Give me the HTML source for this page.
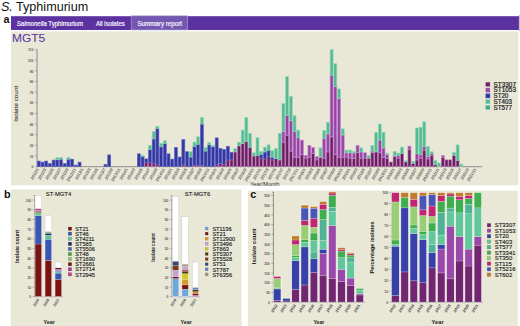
<!DOCTYPE html>
<html><head><meta charset="utf-8"><title>S. Typhimurium MGT5</title>
<style>
html,body{margin:0;padding:0;background:#fff;}
body{width:520px;height:326px;overflow:hidden;font-family:"Liberation Sans",sans-serif;}
svg{display:block;}
svg text{font-family:"Liberation Sans",sans-serif;}
</style></head><body>
<svg width="520" height="326" viewBox="0 0 520 326">
<rect width="520" height="326" fill="#fff"/>
<text x="0.9" y="10.8" font-size="12.6" fill="#111"><tspan font-style="italic">S.</tspan> Typhimurium</text>
<text x="3.6" y="22.9" font-weight="bold" font-size="10.8" fill="#111">a</text>
<rect x="11" y="31.4" width="507.4" height="153.9" fill="#e9e8d7"/>
<rect x="11" y="16.2" width="507.6" height="13.8" fill="#5c31a0"/>
<rect x="518" y="16.2" width="0.8" height="13.8" fill="#3b1f6b"/>
<rect x="518.8" y="15" width="1.2" height="16" fill="#c9b8e6"/>
<rect x="131.2" y="15.8" width="56.4" height="14.2" fill="#7457b0" stroke="#b9a9d6" stroke-width="0.6"/>
<g font-size="6.3" fill="#f5f1fb" stroke="#f5f1fb" stroke-width="0.2">
<text x="16.8" y="25.8" textLength="66.2" lengthAdjust="spacingAndGlyphs"><tspan font-style="italic">Salmonella</tspan> Typhimurium</text>
<text x="95.9" y="25.8" textLength="28.9" lengthAdjust="spacingAndGlyphs">All isolates</text>
<text x="137.4" y="25.8" textLength="44.6" lengthAdjust="spacingAndGlyphs">Summary report</text>
</g>
<text x="12.0" y="41.9" font-size="11.2" fill="#5b37a0" stroke="#5b37a0" stroke-width="0.08" textLength="33.2" lengthAdjust="spacingAndGlyphs">MGT5</text>
<line x1="37.0" y1="49.4" x2="37.0" y2="166.6" stroke="#777" stroke-width="0.8"/>
<line x1="37.0" y1="166.6" x2="481.8" y2="166.6" stroke="#777" stroke-width="0.7"/>
<g font-size="3.3" font-weight="bold" fill="#5a5a5a" text-anchor="end">
<line x1="34.8" y1="166.6" x2="37.0" y2="166.6" stroke="#777" stroke-width="0.5"/>
<text x="33.3" y="168.3">0</text>
<line x1="34.8" y1="155.96" x2="37.0" y2="155.96" stroke="#777" stroke-width="0.5"/>
<text x="33.3" y="157.66">10</text>
<line x1="34.8" y1="145.33" x2="37.0" y2="145.33" stroke="#777" stroke-width="0.5"/>
<text x="33.3" y="147.03">20</text>
<line x1="34.8" y1="134.69" x2="37.0" y2="134.69" stroke="#777" stroke-width="0.5"/>
<text x="33.3" y="136.39">30</text>
<line x1="34.8" y1="124.05" x2="37.0" y2="124.05" stroke="#777" stroke-width="0.5"/>
<text x="33.3" y="125.75">40</text>
<line x1="34.8" y1="113.42" x2="37.0" y2="113.42" stroke="#777" stroke-width="0.5"/>
<text x="33.3" y="115.12">50</text>
<line x1="34.8" y1="102.78" x2="37.0" y2="102.78" stroke="#777" stroke-width="0.5"/>
<text x="33.3" y="104.48">60</text>
<line x1="34.8" y1="92.15" x2="37.0" y2="92.15" stroke="#777" stroke-width="0.5"/>
<text x="33.3" y="93.85">70</text>
<line x1="34.8" y1="81.51" x2="37.0" y2="81.51" stroke="#777" stroke-width="0.5"/>
<text x="33.3" y="83.21">80</text>
<line x1="34.8" y1="70.87" x2="37.0" y2="70.87" stroke="#777" stroke-width="0.5"/>
<text x="33.3" y="72.57">90</text>
<line x1="34.8" y1="60.24" x2="37.0" y2="60.24" stroke="#777" stroke-width="0.5"/>
<text x="33.3" y="61.94">100</text>
<line x1="34.8" y1="49.6" x2="37.0" y2="49.6" stroke="#777" stroke-width="0.5"/>
<text x="33.3" y="51.3">110</text>
</g>
<rect x="37.3" y="161.07" width="2.96" height="5.53" fill="#3337a0" stroke="#6367c6" stroke-width="0.65"/>
<rect x="41.01" y="162.13" width="2.96" height="4.47" fill="#3337a0" stroke="#6367c6" stroke-width="0.65"/>
<rect x="44.71" y="161.07" width="2.96" height="5.53" fill="#3337a0" stroke="#6367c6" stroke-width="0.65"/>
<rect x="48.42" y="163.62" width="2.96" height="2.98" fill="#3337a0" stroke="#6367c6" stroke-width="0.65"/>
<rect x="52.13" y="160.11" width="2.96" height="6.49" fill="#3337a0" stroke="#6367c6" stroke-width="0.65"/>
<rect x="55.83" y="159.69" width="2.96" height="6.91" fill="#3337a0" stroke="#6367c6" stroke-width="0.65"/>
<rect x="55.83" y="157.56" width="2.96" height="2.13" fill="#56b993" stroke="#90dab8" stroke-width="0.65"/>
<rect x="59.54" y="159.15" width="2.96" height="7.45" fill="#3337a0" stroke="#6367c6" stroke-width="0.65"/>
<rect x="59.54" y="157.56" width="2.96" height="1.6" fill="#56b993" stroke="#90dab8" stroke-width="0.65"/>
<rect x="63.25" y="163.62" width="2.96" height="2.98" fill="#3337a0" stroke="#6367c6" stroke-width="0.65"/>
<rect x="66.95" y="159.15" width="2.96" height="7.45" fill="#3337a0" stroke="#6367c6" stroke-width="0.65"/>
<rect x="66.95" y="157.56" width="2.96" height="1.6" fill="#56b993" stroke="#90dab8" stroke-width="0.65"/>
<rect x="70.66" y="159.15" width="2.96" height="7.45" fill="#3337a0" stroke="#6367c6" stroke-width="0.65"/>
<rect x="74.37" y="165.11" width="2.96" height="1.49" fill="#3337a0" stroke="#6367c6" stroke-width="0.65"/>
<rect x="78.07" y="162.13" width="2.96" height="4.47" fill="#3337a0" stroke="#6367c6" stroke-width="0.65"/>
<rect x="104.02" y="164.47" width="2.96" height="2.13" fill="#3337a0" stroke="#6367c6" stroke-width="0.65"/>
<rect x="107.73" y="154.9" width="2.96" height="11.7" fill="#3337a0" stroke="#6367c6" stroke-width="0.65"/>
<rect x="137.38" y="153.84" width="2.96" height="12.76" fill="#3337a0" stroke="#6367c6" stroke-width="0.65"/>
<rect x="141.09" y="156.28" width="2.96" height="10.32" fill="#3337a0" stroke="#6367c6" stroke-width="0.65"/>
<rect x="141.09" y="155.22" width="2.96" height="1.06" fill="#56b993" stroke="#90dab8" stroke-width="0.65"/>
<rect x="144.79" y="162.35" width="2.96" height="4.25" fill="#6b1e60" stroke="#b874b6" stroke-width="0.65"/>
<rect x="144.79" y="158.94" width="2.96" height="3.4" fill="#3337a0" stroke="#6367c6" stroke-width="0.65"/>
<rect x="148.5" y="162.35" width="2.96" height="4.25" fill="#6b1e60" stroke="#b874b6" stroke-width="0.65"/>
<rect x="148.5" y="149.58" width="2.96" height="12.76" fill="#3337a0" stroke="#6367c6" stroke-width="0.65"/>
<rect x="148.5" y="145.33" width="2.96" height="4.25" fill="#56b993" stroke="#90dab8" stroke-width="0.65"/>
<rect x="152.21" y="163.41" width="2.96" height="3.19" fill="#6b1e60" stroke="#b874b6" stroke-width="0.65"/>
<rect x="152.21" y="138.95" width="2.96" height="24.46" fill="#3337a0" stroke="#6367c6" stroke-width="0.65"/>
<rect x="152.21" y="131.5" width="2.96" height="7.45" fill="#56b993" stroke="#90dab8" stroke-width="0.65"/>
<rect x="155.91" y="164.47" width="2.96" height="2.13" fill="#6b1e60" stroke="#b874b6" stroke-width="0.65"/>
<rect x="155.91" y="128.31" width="2.96" height="36.16" fill="#3337a0" stroke="#6367c6" stroke-width="0.65"/>
<rect x="155.91" y="126.18" width="2.96" height="2.13" fill="#56b993" stroke="#90dab8" stroke-width="0.65"/>
<rect x="159.62" y="146.82" width="2.96" height="19.78" fill="#3337a0" stroke="#6367c6" stroke-width="0.65"/>
<rect x="159.62" y="143.2" width="2.96" height="3.62" fill="#56b993" stroke="#90dab8" stroke-width="0.65"/>
<rect x="163.33" y="143.63" width="2.96" height="22.97" fill="#3337a0" stroke="#6367c6" stroke-width="0.65"/>
<rect x="163.33" y="140.75" width="2.96" height="2.87" fill="#56b993" stroke="#90dab8" stroke-width="0.65"/>
<rect x="167.03" y="153.84" width="2.96" height="12.76" fill="#3337a0" stroke="#6367c6" stroke-width="0.65"/>
<rect x="170.74" y="159.15" width="2.96" height="7.45" fill="#3337a0" stroke="#6367c6" stroke-width="0.65"/>
<rect x="174.45" y="147.45" width="2.96" height="19.15" fill="#3337a0" stroke="#6367c6" stroke-width="0.65"/>
<rect x="178.15" y="157.03" width="2.96" height="9.57" fill="#3337a0" stroke="#6367c6" stroke-width="0.65"/>
<rect x="181.86" y="164.47" width="2.96" height="2.13" fill="#6b1e60" stroke="#b874b6" stroke-width="0.65"/>
<rect x="181.86" y="139.48" width="2.96" height="25" fill="#3337a0" stroke="#6367c6" stroke-width="0.65"/>
<rect x="185.57" y="151.71" width="2.96" height="14.89" fill="#3337a0" stroke="#6367c6" stroke-width="0.65"/>
<rect x="189.27" y="157.03" width="2.96" height="9.57" fill="#3337a0" stroke="#6367c6" stroke-width="0.65"/>
<rect x="189.27" y="151.71" width="2.96" height="5.32" fill="#56b993" stroke="#90dab8" stroke-width="0.65"/>
<rect x="192.98" y="165.54" width="2.96" height="1.06" fill="#6b1e60" stroke="#b874b6" stroke-width="0.65"/>
<rect x="192.98" y="146.39" width="2.96" height="19.15" fill="#3337a0" stroke="#6367c6" stroke-width="0.65"/>
<rect x="192.98" y="142.14" width="2.96" height="4.25" fill="#56b993" stroke="#90dab8" stroke-width="0.65"/>
<rect x="196.69" y="165.54" width="2.96" height="1.06" fill="#6b1e60" stroke="#b874b6" stroke-width="0.65"/>
<rect x="196.69" y="144.26" width="2.96" height="21.27" fill="#3337a0" stroke="#6367c6" stroke-width="0.65"/>
<rect x="196.69" y="136.82" width="2.96" height="7.45" fill="#56b993" stroke="#90dab8" stroke-width="0.65"/>
<rect x="200.39" y="165.54" width="2.96" height="1.06" fill="#6b1e60" stroke="#b874b6" stroke-width="0.65"/>
<rect x="200.39" y="124.05" width="2.96" height="41.48" fill="#3337a0" stroke="#6367c6" stroke-width="0.65"/>
<rect x="200.39" y="117.35" width="2.96" height="6.7" fill="#56b993" stroke="#90dab8" stroke-width="0.65"/>
<rect x="204.1" y="151.07" width="2.96" height="15.53" fill="#3337a0" stroke="#6367c6" stroke-width="0.65"/>
<rect x="204.1" y="147.45" width="2.96" height="3.62" fill="#56b993" stroke="#90dab8" stroke-width="0.65"/>
<rect x="207.81" y="144.8" width="2.96" height="21.8" fill="#3337a0" stroke="#6367c6" stroke-width="0.65"/>
<rect x="207.81" y="142.67" width="2.96" height="2.13" fill="#56b993" stroke="#90dab8" stroke-width="0.65"/>
<rect x="211.51" y="146.71" width="2.96" height="19.89" fill="#3337a0" stroke="#6367c6" stroke-width="0.65"/>
<rect x="211.51" y="145.33" width="2.96" height="1.38" fill="#56b993" stroke="#90dab8" stroke-width="0.65"/>
<rect x="215.22" y="164.47" width="2.96" height="2.13" fill="#6b1e60" stroke="#b874b6" stroke-width="0.65"/>
<rect x="215.22" y="137.88" width="2.96" height="26.59" fill="#3337a0" stroke="#6367c6" stroke-width="0.65"/>
<rect x="218.93" y="163.41" width="2.96" height="3.19" fill="#6b1e60" stroke="#b874b6" stroke-width="0.65"/>
<rect x="218.93" y="148.52" width="2.96" height="14.89" fill="#3337a0" stroke="#6367c6" stroke-width="0.65"/>
<rect x="222.63" y="164.47" width="2.96" height="2.13" fill="#6b1e60" stroke="#b874b6" stroke-width="0.65"/>
<rect x="222.63" y="149.58" width="2.96" height="14.89" fill="#3337a0" stroke="#6367c6" stroke-width="0.65"/>
<rect x="226.34" y="159.9" width="2.96" height="6.7" fill="#6b1e60" stroke="#b874b6" stroke-width="0.65"/>
<rect x="226.34" y="146.28" width="2.96" height="13.61" fill="#3337a0" stroke="#6367c6" stroke-width="0.65"/>
<rect x="230.05" y="159.9" width="2.96" height="6.7" fill="#6b1e60" stroke="#b874b6" stroke-width="0.65"/>
<rect x="230.05" y="152.24" width="2.96" height="7.66" fill="#3337a0" stroke="#6367c6" stroke-width="0.65"/>
<rect x="233.75" y="151.92" width="2.96" height="14.68" fill="#6b1e60" stroke="#b874b6" stroke-width="0.65"/>
<rect x="233.75" y="148.41" width="2.96" height="3.51" fill="#56b993" stroke="#90dab8" stroke-width="0.65"/>
<rect x="237.46" y="145.75" width="2.96" height="20.85" fill="#6b1e60" stroke="#b874b6" stroke-width="0.65"/>
<rect x="237.46" y="142.24" width="2.96" height="3.51" fill="#56b993" stroke="#90dab8" stroke-width="0.65"/>
<rect x="241.17" y="143.63" width="2.96" height="22.97" fill="#6b1e60" stroke="#b874b6" stroke-width="0.65"/>
<rect x="241.17" y="130.12" width="2.96" height="13.51" fill="#56b993" stroke="#90dab8" stroke-width="0.65"/>
<rect x="244.87" y="141.29" width="2.96" height="25.31" fill="#6b1e60" stroke="#b874b6" stroke-width="0.65"/>
<rect x="244.87" y="117.35" width="2.96" height="23.93" fill="#56b993" stroke="#90dab8" stroke-width="0.65"/>
<rect x="248.58" y="147.45" width="2.96" height="19.15" fill="#6b1e60" stroke="#b874b6" stroke-width="0.65"/>
<rect x="248.58" y="133.31" width="2.96" height="14.15" fill="#56b993" stroke="#90dab8" stroke-width="0.65"/>
<rect x="252.29" y="155.96" width="2.96" height="10.64" fill="#6b1e60" stroke="#b874b6" stroke-width="0.65"/>
<rect x="252.29" y="152.77" width="2.96" height="3.19" fill="#56b993" stroke="#90dab8" stroke-width="0.65"/>
<rect x="255.99" y="155.43" width="2.96" height="11.17" fill="#6b1e60" stroke="#b874b6" stroke-width="0.65"/>
<rect x="255.99" y="137.78" width="2.96" height="17.66" fill="#56b993" stroke="#90dab8" stroke-width="0.65"/>
<rect x="259.7" y="158.09" width="2.96" height="8.51" fill="#6b1e60" stroke="#b874b6" stroke-width="0.65"/>
<rect x="259.7" y="154.58" width="2.96" height="3.51" fill="#3337a0" stroke="#6367c6" stroke-width="0.65"/>
<rect x="259.7" y="151.39" width="2.96" height="3.19" fill="#56b993" stroke="#90dab8" stroke-width="0.65"/>
<rect x="263.41" y="158.94" width="2.96" height="7.66" fill="#6b1e60" stroke="#b874b6" stroke-width="0.65"/>
<rect x="263.41" y="151.92" width="2.96" height="7.02" fill="#3337a0" stroke="#6367c6" stroke-width="0.65"/>
<rect x="263.41" y="147.14" width="2.96" height="4.79" fill="#56b993" stroke="#90dab8" stroke-width="0.65"/>
<rect x="267.11" y="156.28" width="2.96" height="10.32" fill="#6b1e60" stroke="#b874b6" stroke-width="0.65"/>
<rect x="267.11" y="150.11" width="2.96" height="6.17" fill="#3337a0" stroke="#6367c6" stroke-width="0.65"/>
<rect x="267.11" y="144.8" width="2.96" height="5.32" fill="#56b993" stroke="#90dab8" stroke-width="0.65"/>
<rect x="270.82" y="159.9" width="2.96" height="6.7" fill="#6b1e60" stroke="#b874b6" stroke-width="0.65"/>
<rect x="270.82" y="157.24" width="2.96" height="2.66" fill="#3337a0" stroke="#6367c6" stroke-width="0.65"/>
<rect x="270.82" y="150.54" width="2.96" height="6.7" fill="#56b993" stroke="#90dab8" stroke-width="0.65"/>
<rect x="274.53" y="158.52" width="2.96" height="8.08" fill="#6b1e60" stroke="#b874b6" stroke-width="0.65"/>
<rect x="274.53" y="148.41" width="2.96" height="10.1" fill="#56b993" stroke="#90dab8" stroke-width="0.65"/>
<rect x="278.23" y="159.9" width="2.96" height="6.7" fill="#6b1e60" stroke="#b874b6" stroke-width="0.65"/>
<rect x="278.23" y="133.31" width="2.96" height="26.59" fill="#56b993" stroke="#90dab8" stroke-width="0.65"/>
<rect x="281.94" y="142.14" width="2.96" height="24.46" fill="#6b1e60" stroke="#b874b6" stroke-width="0.65"/>
<rect x="281.94" y="131.5" width="2.96" height="10.64" fill="#9645a5" stroke="#c68fd2" stroke-width="0.65"/>
<rect x="281.94" y="103.63" width="2.96" height="27.87" fill="#56b993" stroke="#90dab8" stroke-width="0.65"/>
<rect x="285.65" y="135.12" width="2.96" height="31.48" fill="#6b1e60" stroke="#b874b6" stroke-width="0.65"/>
<rect x="285.65" y="115.23" width="2.96" height="19.89" fill="#9645a5" stroke="#c68fd2" stroke-width="0.65"/>
<rect x="285.65" y="76.72" width="2.96" height="38.5" fill="#56b993" stroke="#90dab8" stroke-width="0.65"/>
<rect x="289.35" y="151.07" width="2.96" height="15.53" fill="#6b1e60" stroke="#b874b6" stroke-width="0.65"/>
<rect x="289.35" y="120.76" width="2.96" height="30.31" fill="#9645a5" stroke="#c68fd2" stroke-width="0.65"/>
<rect x="289.35" y="96.29" width="2.96" height="24.46" fill="#56b993" stroke="#90dab8" stroke-width="0.65"/>
<rect x="293.06" y="157.13" width="2.96" height="9.47" fill="#6b1e60" stroke="#b874b6" stroke-width="0.65"/>
<rect x="293.06" y="131.29" width="2.96" height="25.85" fill="#9645a5" stroke="#c68fd2" stroke-width="0.65"/>
<rect x="293.06" y="115.76" width="2.96" height="15.53" fill="#56b993" stroke="#90dab8" stroke-width="0.65"/>
<rect x="296.77" y="157.13" width="2.96" height="9.47" fill="#6b1e60" stroke="#b874b6" stroke-width="0.65"/>
<rect x="296.77" y="137.67" width="2.96" height="19.46" fill="#9645a5" stroke="#c68fd2" stroke-width="0.65"/>
<rect x="296.77" y="130.12" width="2.96" height="7.55" fill="#56b993" stroke="#90dab8" stroke-width="0.65"/>
<rect x="300.47" y="154.58" width="2.96" height="12.02" fill="#6b1e60" stroke="#b874b6" stroke-width="0.65"/>
<rect x="300.47" y="140.12" width="2.96" height="14.47" fill="#9645a5" stroke="#c68fd2" stroke-width="0.65"/>
<rect x="304.18" y="158.09" width="2.96" height="8.51" fill="#6b1e60" stroke="#b874b6" stroke-width="0.65"/>
<rect x="304.18" y="155.43" width="2.96" height="2.66" fill="#9645a5" stroke="#c68fd2" stroke-width="0.65"/>
<rect x="307.89" y="157.13" width="2.96" height="9.47" fill="#6b1e60" stroke="#b874b6" stroke-width="0.65"/>
<rect x="307.89" y="145.33" width="2.96" height="11.81" fill="#9645a5" stroke="#c68fd2" stroke-width="0.65"/>
<rect x="311.59" y="153.62" width="2.96" height="12.98" fill="#6b1e60" stroke="#b874b6" stroke-width="0.65"/>
<rect x="311.59" y="147.45" width="2.96" height="6.17" fill="#9645a5" stroke="#c68fd2" stroke-width="0.65"/>
<rect x="315.3" y="159.9" width="2.96" height="6.7" fill="#6b1e60" stroke="#b874b6" stroke-width="0.65"/>
<rect x="315.3" y="156.71" width="2.96" height="3.19" fill="#9645a5" stroke="#c68fd2" stroke-width="0.65"/>
<rect x="319.01" y="157.24" width="2.96" height="9.36" fill="#6b1e60" stroke="#b874b6" stroke-width="0.65"/>
<rect x="319.01" y="147.88" width="2.96" height="9.36" fill="#56b993" stroke="#90dab8" stroke-width="0.65"/>
<rect x="322.71" y="158.09" width="2.96" height="8.51" fill="#6b1e60" stroke="#b874b6" stroke-width="0.65"/>
<rect x="322.71" y="138.63" width="2.96" height="19.46" fill="#9645a5" stroke="#c68fd2" stroke-width="0.65"/>
<rect x="322.71" y="130.65" width="2.96" height="7.98" fill="#56b993" stroke="#90dab8" stroke-width="0.65"/>
<rect x="326.42" y="151.92" width="2.96" height="14.68" fill="#6b1e60" stroke="#b874b6" stroke-width="0.65"/>
<rect x="326.42" y="133.95" width="2.96" height="17.98" fill="#9645a5" stroke="#c68fd2" stroke-width="0.65"/>
<rect x="326.42" y="122.35" width="2.96" height="11.59" fill="#56b993" stroke="#90dab8" stroke-width="0.65"/>
<rect x="330.13" y="136.82" width="2.96" height="29.78" fill="#6b1e60" stroke="#b874b6" stroke-width="0.65"/>
<rect x="330.13" y="75.13" width="2.96" height="61.69" fill="#9645a5" stroke="#c68fd2" stroke-width="0.65"/>
<rect x="330.13" y="49.6" width="2.96" height="25.53" fill="#56b993" stroke="#90dab8" stroke-width="0.65"/>
<rect x="333.83" y="154.58" width="2.96" height="12.02" fill="#6b1e60" stroke="#b874b6" stroke-width="0.65"/>
<rect x="333.83" y="86.51" width="2.96" height="68.07" fill="#9645a5" stroke="#c68fd2" stroke-width="0.65"/>
<rect x="333.83" y="63.75" width="2.96" height="22.76" fill="#56b993" stroke="#90dab8" stroke-width="0.65"/>
<rect x="337.54" y="157.13" width="2.96" height="9.47" fill="#6b1e60" stroke="#b874b6" stroke-width="0.65"/>
<rect x="337.54" y="98.63" width="2.96" height="58.5" fill="#9645a5" stroke="#c68fd2" stroke-width="0.65"/>
<rect x="337.54" y="88.95" width="2.96" height="9.68" fill="#56b993" stroke="#90dab8" stroke-width="0.65"/>
<rect x="341.25" y="157.13" width="2.96" height="9.47" fill="#6b1e60" stroke="#b874b6" stroke-width="0.65"/>
<rect x="341.25" y="135.01" width="2.96" height="22.12" fill="#9645a5" stroke="#c68fd2" stroke-width="0.65"/>
<rect x="341.25" y="128.84" width="2.96" height="6.17" fill="#56b993" stroke="#90dab8" stroke-width="0.65"/>
<rect x="344.95" y="157.03" width="2.96" height="9.57" fill="#6b1e60" stroke="#b874b6" stroke-width="0.65"/>
<rect x="344.95" y="152.77" width="2.96" height="4.25" fill="#9645a5" stroke="#c68fd2" stroke-width="0.65"/>
<rect x="344.95" y="150.11" width="2.96" height="2.66" fill="#56b993" stroke="#90dab8" stroke-width="0.65"/>
<rect x="348.66" y="158.09" width="2.96" height="8.51" fill="#6b1e60" stroke="#b874b6" stroke-width="0.65"/>
<rect x="348.66" y="152.77" width="2.96" height="5.32" fill="#9645a5" stroke="#c68fd2" stroke-width="0.65"/>
<rect x="348.66" y="150.11" width="2.96" height="2.66" fill="#56b993" stroke="#90dab8" stroke-width="0.65"/>
<rect x="352.37" y="158.3" width="2.96" height="8.3" fill="#6b1e60" stroke="#b874b6" stroke-width="0.65"/>
<rect x="352.37" y="152.99" width="2.96" height="5.32" fill="#9645a5" stroke="#c68fd2" stroke-width="0.65"/>
<rect x="352.37" y="151.39" width="2.96" height="1.6" fill="#56b993" stroke="#90dab8" stroke-width="0.65"/>
<rect x="356.07" y="152.77" width="2.96" height="13.83" fill="#6b1e60" stroke="#b874b6" stroke-width="0.65"/>
<rect x="356.07" y="145.33" width="2.96" height="7.45" fill="#9645a5" stroke="#c68fd2" stroke-width="0.65"/>
<rect x="359.78" y="158.09" width="2.96" height="8.51" fill="#6b1e60" stroke="#b874b6" stroke-width="0.65"/>
<rect x="359.78" y="151.92" width="2.96" height="6.17" fill="#9645a5" stroke="#c68fd2" stroke-width="0.65"/>
<rect x="359.78" y="147.88" width="2.96" height="4.04" fill="#56b993" stroke="#90dab8" stroke-width="0.65"/>
<rect x="363.49" y="158.09" width="2.96" height="8.51" fill="#6b1e60" stroke="#b874b6" stroke-width="0.65"/>
<rect x="363.49" y="152.77" width="2.96" height="5.32" fill="#9645a5" stroke="#c68fd2" stroke-width="0.65"/>
<rect x="367.19" y="158.09" width="2.96" height="8.51" fill="#6b1e60" stroke="#b874b6" stroke-width="0.65"/>
<rect x="367.19" y="155.43" width="2.96" height="2.66" fill="#56b993" stroke="#90dab8" stroke-width="0.65"/>
<rect x="370.9" y="152.77" width="2.96" height="13.83" fill="#6b1e60" stroke="#b874b6" stroke-width="0.65"/>
<rect x="370.9" y="150.96" width="2.96" height="1.81" fill="#9645a5" stroke="#c68fd2" stroke-width="0.65"/>
<rect x="370.9" y="145.33" width="2.96" height="5.64" fill="#56b993" stroke="#90dab8" stroke-width="0.65"/>
<rect x="374.61" y="151.92" width="2.96" height="14.68" fill="#6b1e60" stroke="#b874b6" stroke-width="0.65"/>
<rect x="374.61" y="132.46" width="2.96" height="19.46" fill="#56b993" stroke="#90dab8" stroke-width="0.65"/>
<rect x="378.31" y="152.77" width="2.96" height="13.83" fill="#6b1e60" stroke="#b874b6" stroke-width="0.65"/>
<rect x="378.31" y="140.01" width="2.96" height="12.76" fill="#9645a5" stroke="#c68fd2" stroke-width="0.65"/>
<rect x="378.31" y="124.05" width="2.96" height="15.95" fill="#56b993" stroke="#90dab8" stroke-width="0.65"/>
<rect x="382.02" y="157.24" width="2.96" height="9.36" fill="#6b1e60" stroke="#b874b6" stroke-width="0.65"/>
<rect x="382.02" y="147.88" width="2.96" height="9.36" fill="#9645a5" stroke="#c68fd2" stroke-width="0.65"/>
<rect x="382.02" y="132.46" width="2.96" height="15.42" fill="#56b993" stroke="#90dab8" stroke-width="0.65"/>
<rect x="385.73" y="158.52" width="2.96" height="8.08" fill="#6b1e60" stroke="#b874b6" stroke-width="0.65"/>
<rect x="385.73" y="154.26" width="2.96" height="4.25" fill="#9645a5" stroke="#c68fd2" stroke-width="0.65"/>
<rect x="385.73" y="153.2" width="2.96" height="1.06" fill="#56b993" stroke="#90dab8" stroke-width="0.65"/>
<rect x="389.43" y="162.03" width="2.96" height="4.57" fill="#6b1e60" stroke="#b874b6" stroke-width="0.65"/>
<rect x="393.14" y="156.71" width="2.96" height="9.89" fill="#6b1e60" stroke="#b874b6" stroke-width="0.65"/>
<rect x="393.14" y="155.43" width="2.96" height="1.28" fill="#9645a5" stroke="#c68fd2" stroke-width="0.65"/>
<rect x="393.14" y="151.39" width="2.96" height="4.04" fill="#56b993" stroke="#90dab8" stroke-width="0.65"/>
<rect x="396.85" y="158.09" width="2.96" height="8.51" fill="#6b1e60" stroke="#b874b6" stroke-width="0.65"/>
<rect x="396.85" y="155.43" width="2.96" height="2.66" fill="#9645a5" stroke="#c68fd2" stroke-width="0.65"/>
<rect x="396.85" y="153.09" width="2.96" height="2.34" fill="#56b993" stroke="#90dab8" stroke-width="0.65"/>
<rect x="400.55" y="153.62" width="2.96" height="12.98" fill="#6b1e60" stroke="#b874b6" stroke-width="0.65"/>
<rect x="400.55" y="147.03" width="2.96" height="6.59" fill="#56b993" stroke="#90dab8" stroke-width="0.65"/>
<rect x="404.26" y="161.81" width="2.96" height="4.79" fill="#6b1e60" stroke="#b874b6" stroke-width="0.65"/>
<rect x="404.26" y="160.75" width="2.96" height="1.06" fill="#56b993" stroke="#90dab8" stroke-width="0.65"/>
<rect x="407.97" y="149.26" width="2.96" height="17.34" fill="#6b1e60" stroke="#b874b6" stroke-width="0.65"/>
<rect x="407.97" y="146.07" width="2.96" height="3.19" fill="#9645a5" stroke="#c68fd2" stroke-width="0.65"/>
<rect x="411.67" y="163.41" width="2.96" height="3.19" fill="#6b1e60" stroke="#b874b6" stroke-width="0.65"/>
<rect x="411.67" y="161.28" width="2.96" height="2.13" fill="#56b993" stroke="#90dab8" stroke-width="0.65"/>
<rect x="415.38" y="159.9" width="2.96" height="6.7" fill="#6b1e60" stroke="#b874b6" stroke-width="0.65"/>
<rect x="415.38" y="153.73" width="2.96" height="6.17" fill="#9645a5" stroke="#c68fd2" stroke-width="0.65"/>
<rect x="415.38" y="127.99" width="2.96" height="25.74" fill="#56b993" stroke="#90dab8" stroke-width="0.65"/>
<rect x="419.09" y="158.09" width="2.96" height="8.51" fill="#6b1e60" stroke="#b874b6" stroke-width="0.65"/>
<rect x="419.09" y="154.58" width="2.96" height="3.51" fill="#9645a5" stroke="#c68fd2" stroke-width="0.65"/>
<rect x="419.09" y="127.14" width="2.96" height="27.44" fill="#56b993" stroke="#90dab8" stroke-width="0.65"/>
<rect x="422.79" y="150.11" width="2.96" height="16.49" fill="#6b1e60" stroke="#b874b6" stroke-width="0.65"/>
<rect x="422.79" y="146.6" width="2.96" height="3.51" fill="#9645a5" stroke="#c68fd2" stroke-width="0.65"/>
<rect x="422.79" y="121.82" width="2.96" height="24.78" fill="#56b993" stroke="#90dab8" stroke-width="0.65"/>
<rect x="426.5" y="158.94" width="2.96" height="7.66" fill="#6b1e60" stroke="#b874b6" stroke-width="0.65"/>
<rect x="426.5" y="156.28" width="2.96" height="2.66" fill="#9645a5" stroke="#c68fd2" stroke-width="0.65"/>
<rect x="426.5" y="146.5" width="2.96" height="9.79" fill="#56b993" stroke="#90dab8" stroke-width="0.65"/>
<rect x="430.21" y="155.43" width="2.96" height="11.17" fill="#6b1e60" stroke="#b874b6" stroke-width="0.65"/>
<rect x="430.21" y="153.62" width="2.96" height="1.81" fill="#9645a5" stroke="#c68fd2" stroke-width="0.65"/>
<rect x="430.21" y="151.82" width="2.96" height="1.81" fill="#56b993" stroke="#90dab8" stroke-width="0.65"/>
<rect x="433.91" y="164.47" width="2.96" height="2.13" fill="#6b1e60" stroke="#b874b6" stroke-width="0.65"/>
<rect x="433.91" y="160.43" width="2.96" height="4.04" fill="#56b993" stroke="#90dab8" stroke-width="0.65"/>
<rect x="437.62" y="162.98" width="2.96" height="3.62" fill="#56b993" stroke="#90dab8" stroke-width="0.65"/>
<rect x="441.33" y="157.24" width="2.96" height="9.36" fill="#6b1e60" stroke="#b874b6" stroke-width="0.65"/>
<rect x="441.33" y="155.43" width="2.96" height="1.81" fill="#9645a5" stroke="#c68fd2" stroke-width="0.65"/>
<rect x="445.03" y="159.9" width="2.96" height="6.7" fill="#6b1e60" stroke="#b874b6" stroke-width="0.65"/>
<rect x="448.74" y="159.9" width="2.96" height="6.7" fill="#6b1e60" stroke="#b874b6" stroke-width="0.65"/>
<rect x="452.45" y="155.54" width="2.96" height="11.06" fill="#6b1e60" stroke="#b874b6" stroke-width="0.65"/>
<rect x="452.45" y="152.35" width="2.96" height="3.19" fill="#56b993" stroke="#90dab8" stroke-width="0.65"/>
<rect x="456.15" y="160.22" width="2.96" height="6.38" fill="#6b1e60" stroke="#b874b6" stroke-width="0.65"/>
<rect x="456.15" y="144.9" width="2.96" height="15.32" fill="#56b993" stroke="#90dab8" stroke-width="0.65"/>
<rect x="459.86" y="164.15" width="2.96" height="2.45" fill="#56b993" stroke="#90dab8" stroke-width="0.65"/>
<g stroke="#888" stroke-width="0.35">
<line x1="37" y1="166.6" x2="37" y2="168.0"/>
<line x1="40.71" y1="166.6" x2="40.71" y2="168.0"/>
<line x1="44.41" y1="166.6" x2="44.41" y2="168.0"/>
<line x1="48.12" y1="166.6" x2="48.12" y2="168.0"/>
<line x1="51.83" y1="166.6" x2="51.83" y2="168.0"/>
<line x1="55.53" y1="166.6" x2="55.53" y2="168.0"/>
<line x1="59.24" y1="166.6" x2="59.24" y2="168.0"/>
<line x1="62.95" y1="166.6" x2="62.95" y2="168.0"/>
<line x1="66.65" y1="166.6" x2="66.65" y2="168.0"/>
<line x1="70.36" y1="166.6" x2="70.36" y2="168.0"/>
<line x1="74.07" y1="166.6" x2="74.07" y2="168.0"/>
<line x1="77.77" y1="166.6" x2="77.77" y2="168.0"/>
<line x1="81.48" y1="166.6" x2="81.48" y2="168.0"/>
<line x1="85.19" y1="166.6" x2="85.19" y2="168.0"/>
<line x1="88.89" y1="166.6" x2="88.89" y2="168.0"/>
<line x1="92.6" y1="166.6" x2="92.6" y2="168.0"/>
<line x1="96.31" y1="166.6" x2="96.31" y2="168.0"/>
<line x1="100.01" y1="166.6" x2="100.01" y2="168.0"/>
<line x1="103.72" y1="166.6" x2="103.72" y2="168.0"/>
<line x1="107.43" y1="166.6" x2="107.43" y2="168.0"/>
<line x1="111.13" y1="166.6" x2="111.13" y2="168.0"/>
<line x1="114.84" y1="166.6" x2="114.84" y2="168.0"/>
<line x1="118.55" y1="166.6" x2="118.55" y2="168.0"/>
<line x1="122.25" y1="166.6" x2="122.25" y2="168.0"/>
<line x1="125.96" y1="166.6" x2="125.96" y2="168.0"/>
<line x1="129.67" y1="166.6" x2="129.67" y2="168.0"/>
<line x1="133.37" y1="166.6" x2="133.37" y2="168.0"/>
<line x1="137.08" y1="166.6" x2="137.08" y2="168.0"/>
<line x1="140.79" y1="166.6" x2="140.79" y2="168.0"/>
<line x1="144.49" y1="166.6" x2="144.49" y2="168.0"/>
<line x1="148.2" y1="166.6" x2="148.2" y2="168.0"/>
<line x1="151.91" y1="166.6" x2="151.91" y2="168.0"/>
<line x1="155.61" y1="166.6" x2="155.61" y2="168.0"/>
<line x1="159.32" y1="166.6" x2="159.32" y2="168.0"/>
<line x1="163.03" y1="166.6" x2="163.03" y2="168.0"/>
<line x1="166.73" y1="166.6" x2="166.73" y2="168.0"/>
<line x1="170.44" y1="166.6" x2="170.44" y2="168.0"/>
<line x1="174.15" y1="166.6" x2="174.15" y2="168.0"/>
<line x1="177.85" y1="166.6" x2="177.85" y2="168.0"/>
<line x1="181.56" y1="166.6" x2="181.56" y2="168.0"/>
<line x1="185.27" y1="166.6" x2="185.27" y2="168.0"/>
<line x1="188.97" y1="166.6" x2="188.97" y2="168.0"/>
<line x1="192.68" y1="166.6" x2="192.68" y2="168.0"/>
<line x1="196.39" y1="166.6" x2="196.39" y2="168.0"/>
<line x1="200.09" y1="166.6" x2="200.09" y2="168.0"/>
<line x1="203.8" y1="166.6" x2="203.8" y2="168.0"/>
<line x1="207.51" y1="166.6" x2="207.51" y2="168.0"/>
<line x1="211.21" y1="166.6" x2="211.21" y2="168.0"/>
<line x1="214.92" y1="166.6" x2="214.92" y2="168.0"/>
<line x1="218.63" y1="166.6" x2="218.63" y2="168.0"/>
<line x1="222.33" y1="166.6" x2="222.33" y2="168.0"/>
<line x1="226.04" y1="166.6" x2="226.04" y2="168.0"/>
<line x1="229.75" y1="166.6" x2="229.75" y2="168.0"/>
<line x1="233.45" y1="166.6" x2="233.45" y2="168.0"/>
<line x1="237.16" y1="166.6" x2="237.16" y2="168.0"/>
<line x1="240.87" y1="166.6" x2="240.87" y2="168.0"/>
<line x1="244.57" y1="166.6" x2="244.57" y2="168.0"/>
<line x1="248.28" y1="166.6" x2="248.28" y2="168.0"/>
<line x1="251.99" y1="166.6" x2="251.99" y2="168.0"/>
<line x1="255.69" y1="166.6" x2="255.69" y2="168.0"/>
<line x1="259.4" y1="166.6" x2="259.4" y2="168.0"/>
<line x1="263.11" y1="166.6" x2="263.11" y2="168.0"/>
<line x1="266.81" y1="166.6" x2="266.81" y2="168.0"/>
<line x1="270.52" y1="166.6" x2="270.52" y2="168.0"/>
<line x1="274.23" y1="166.6" x2="274.23" y2="168.0"/>
<line x1="277.93" y1="166.6" x2="277.93" y2="168.0"/>
<line x1="281.64" y1="166.6" x2="281.64" y2="168.0"/>
<line x1="285.35" y1="166.6" x2="285.35" y2="168.0"/>
<line x1="289.05" y1="166.6" x2="289.05" y2="168.0"/>
<line x1="292.76" y1="166.6" x2="292.76" y2="168.0"/>
<line x1="296.47" y1="166.6" x2="296.47" y2="168.0"/>
<line x1="300.17" y1="166.6" x2="300.17" y2="168.0"/>
<line x1="303.88" y1="166.6" x2="303.88" y2="168.0"/>
<line x1="307.59" y1="166.6" x2="307.59" y2="168.0"/>
<line x1="311.29" y1="166.6" x2="311.29" y2="168.0"/>
<line x1="315" y1="166.6" x2="315" y2="168.0"/>
<line x1="318.71" y1="166.6" x2="318.71" y2="168.0"/>
<line x1="322.41" y1="166.6" x2="322.41" y2="168.0"/>
<line x1="326.12" y1="166.6" x2="326.12" y2="168.0"/>
<line x1="329.83" y1="166.6" x2="329.83" y2="168.0"/>
<line x1="333.53" y1="166.6" x2="333.53" y2="168.0"/>
<line x1="337.24" y1="166.6" x2="337.24" y2="168.0"/>
<line x1="340.95" y1="166.6" x2="340.95" y2="168.0"/>
<line x1="344.65" y1="166.6" x2="344.65" y2="168.0"/>
<line x1="348.36" y1="166.6" x2="348.36" y2="168.0"/>
<line x1="352.07" y1="166.6" x2="352.07" y2="168.0"/>
<line x1="355.77" y1="166.6" x2="355.77" y2="168.0"/>
<line x1="359.48" y1="166.6" x2="359.48" y2="168.0"/>
<line x1="363.19" y1="166.6" x2="363.19" y2="168.0"/>
<line x1="366.89" y1="166.6" x2="366.89" y2="168.0"/>
<line x1="370.6" y1="166.6" x2="370.6" y2="168.0"/>
<line x1="374.31" y1="166.6" x2="374.31" y2="168.0"/>
<line x1="378.01" y1="166.6" x2="378.01" y2="168.0"/>
<line x1="381.72" y1="166.6" x2="381.72" y2="168.0"/>
<line x1="385.43" y1="166.6" x2="385.43" y2="168.0"/>
<line x1="389.13" y1="166.6" x2="389.13" y2="168.0"/>
<line x1="392.84" y1="166.6" x2="392.84" y2="168.0"/>
<line x1="396.55" y1="166.6" x2="396.55" y2="168.0"/>
<line x1="400.25" y1="166.6" x2="400.25" y2="168.0"/>
<line x1="403.96" y1="166.6" x2="403.96" y2="168.0"/>
<line x1="407.67" y1="166.6" x2="407.67" y2="168.0"/>
<line x1="411.37" y1="166.6" x2="411.37" y2="168.0"/>
<line x1="415.08" y1="166.6" x2="415.08" y2="168.0"/>
<line x1="418.79" y1="166.6" x2="418.79" y2="168.0"/>
<line x1="422.49" y1="166.6" x2="422.49" y2="168.0"/>
<line x1="426.2" y1="166.6" x2="426.2" y2="168.0"/>
<line x1="429.91" y1="166.6" x2="429.91" y2="168.0"/>
<line x1="433.61" y1="166.6" x2="433.61" y2="168.0"/>
<line x1="437.32" y1="166.6" x2="437.32" y2="168.0"/>
<line x1="441.03" y1="166.6" x2="441.03" y2="168.0"/>
<line x1="444.73" y1="166.6" x2="444.73" y2="168.0"/>
<line x1="448.44" y1="166.6" x2="448.44" y2="168.0"/>
<line x1="452.15" y1="166.6" x2="452.15" y2="168.0"/>
<line x1="455.85" y1="166.6" x2="455.85" y2="168.0"/>
<line x1="459.56" y1="166.6" x2="459.56" y2="168.0"/>
<line x1="463.27" y1="166.6" x2="463.27" y2="168.0"/>
<line x1="466.97" y1="166.6" x2="466.97" y2="168.0"/>
<line x1="470.68" y1="166.6" x2="470.68" y2="168.0"/>
<line x1="474.39" y1="166.6" x2="474.39" y2="168.0"/>
<line x1="478.09" y1="166.6" x2="478.09" y2="168.0"/>
<line x1="481.8" y1="166.6" x2="481.8" y2="168.0"/>
</g>
<g font-size="4.1" font-weight="bold" fill="#666" text-anchor="end">
<text transform="translate(39.05,169.2) rotate(-60)">2012/1</text>
<text transform="translate(46.47,169.2) rotate(-60)">2012/3</text>
<text transform="translate(53.88,169.2) rotate(-60)">2012/5</text>
<text transform="translate(61.29,169.2) rotate(-60)">2012/7</text>
<text transform="translate(68.71,169.2) rotate(-60)">2012/9</text>
<text transform="translate(76.12,169.2) rotate(-60)">2012/11</text>
<text transform="translate(83.53,169.2) rotate(-60)">2013/1</text>
<text transform="translate(90.95,169.2) rotate(-60)">2013/3</text>
<text transform="translate(98.36,169.2) rotate(-60)">2013/5</text>
<text transform="translate(105.77,169.2) rotate(-60)">2013/7</text>
<text transform="translate(113.19,169.2) rotate(-60)">2013/9</text>
<text transform="translate(120.6,169.2) rotate(-60)">2013/11</text>
<text transform="translate(128.01,169.2) rotate(-60)">2014/1</text>
<text transform="translate(135.43,169.2) rotate(-60)">2014/3</text>
<text transform="translate(142.84,169.2) rotate(-60)">2014/5</text>
<text transform="translate(150.25,169.2) rotate(-60)">2014/7</text>
<text transform="translate(157.67,169.2) rotate(-60)">2014/9</text>
<text transform="translate(165.08,169.2) rotate(-60)">2014/11</text>
<text transform="translate(172.49,169.2) rotate(-60)">2015/1</text>
<text transform="translate(179.91,169.2) rotate(-60)">2015/3</text>
<text transform="translate(187.32,169.2) rotate(-60)">2015/5</text>
<text transform="translate(194.73,169.2) rotate(-60)">2015/7</text>
<text transform="translate(202.15,169.2) rotate(-60)">2015/9</text>
<text transform="translate(209.56,169.2) rotate(-60)">2015/11</text>
<text transform="translate(216.97,169.2) rotate(-60)">2016/1</text>
<text transform="translate(224.39,169.2) rotate(-60)">2016/3</text>
<text transform="translate(231.8,169.2) rotate(-60)">2016/5</text>
<text transform="translate(239.21,169.2) rotate(-60)">2016/7</text>
<text transform="translate(246.63,169.2) rotate(-60)">2016/9</text>
<text transform="translate(254.04,169.2) rotate(-60)">2016/11</text>
<text transform="translate(261.45,169.2) rotate(-60)">2017/1</text>
<text transform="translate(268.87,169.2) rotate(-60)">2017/3</text>
<text transform="translate(276.28,169.2) rotate(-60)">2017/5</text>
<text transform="translate(283.69,169.2) rotate(-60)">2017/7</text>
<text transform="translate(291.11,169.2) rotate(-60)">2017/9</text>
<text transform="translate(298.52,169.2) rotate(-60)">2017/11</text>
<text transform="translate(305.93,169.2) rotate(-60)">2018/1</text>
<text transform="translate(313.35,169.2) rotate(-60)">2018/3</text>
<text transform="translate(320.76,169.2) rotate(-60)">2018/5</text>
<text transform="translate(328.17,169.2) rotate(-60)">2018/7</text>
<text transform="translate(335.59,169.2) rotate(-60)">2018/9</text>
<text transform="translate(343,169.2) rotate(-60)">2018/11</text>
<text transform="translate(350.41,169.2) rotate(-60)">2019/1</text>
<text transform="translate(357.83,169.2) rotate(-60)">2019/3</text>
<text transform="translate(365.24,169.2) rotate(-60)">2019/5</text>
<text transform="translate(372.65,169.2) rotate(-60)">2019/7</text>
<text transform="translate(380.07,169.2) rotate(-60)">2019/9</text>
<text transform="translate(387.48,169.2) rotate(-60)">2019/11</text>
<text transform="translate(394.89,169.2) rotate(-60)">2020/1</text>
<text transform="translate(402.31,169.2) rotate(-60)">2020/3</text>
<text transform="translate(409.72,169.2) rotate(-60)">2020/5</text>
<text transform="translate(417.13,169.2) rotate(-60)">2020/7</text>
<text transform="translate(424.55,169.2) rotate(-60)">2020/9</text>
<text transform="translate(431.96,169.2) rotate(-60)">2020/11</text>
<text transform="translate(439.37,169.2) rotate(-60)">2021/1</text>
<text transform="translate(446.79,169.2) rotate(-60)">2021/3</text>
<text transform="translate(454.2,169.2) rotate(-60)">2021/5</text>
<text transform="translate(461.61,169.2) rotate(-60)">2021/7</text>
<text transform="translate(469.03,169.2) rotate(-60)">2021/9</text>
<text transform="translate(476.44,169.2) rotate(-60)">2021/11</text>
</g>
<text x="250.0" y="185.6" font-size="5.8" fill="#333" textLength="29.4" lengthAdjust="spacingAndGlyphs">Year/Month</text>
<text transform="translate(18.2,121.8) rotate(-90)" font-size="6.2" fill="#1a1a1a" stroke="#1a1a1a" stroke-width="0.06" textLength="36.0" lengthAdjust="spacingAndGlyphs">Isolate count</text>
<rect x="485.8" y="82.2" width="4.2" height="4.2" fill="#6b1e60" stroke="#b874b6" stroke-width="0.5"/>
<text x="493.6" y="86.65" font-size="6.4" fill="#1e1e1e" stroke="#1e1e1e" stroke-width="0.22" textLength="22.4" lengthAdjust="spacingAndGlyphs">ST3307</text>
<rect x="485.8" y="88" width="4.2" height="4.2" fill="#9645a5" stroke="#c68fd2" stroke-width="0.5"/>
<text x="493.6" y="92.45" font-size="6.4" fill="#1e1e1e" stroke="#1e1e1e" stroke-width="0.22" textLength="22.4" lengthAdjust="spacingAndGlyphs">ST1053</text>
<rect x="485.8" y="93.8" width="4.2" height="4.2" fill="#3337a0" stroke="#6367c6" stroke-width="0.5"/>
<text x="493.6" y="98.25" font-size="6.4" fill="#1e1e1e" stroke="#1e1e1e" stroke-width="0.22" textLength="14.6" lengthAdjust="spacingAndGlyphs">ST20</text>
<rect x="485.8" y="99.6" width="4.2" height="4.2" fill="#56b993" stroke="#90dab8" stroke-width="0.5"/>
<text x="493.6" y="104.05" font-size="6.4" fill="#1e1e1e" stroke="#1e1e1e" stroke-width="0.22" textLength="18.5" lengthAdjust="spacingAndGlyphs">ST403</text>
<rect x="485.8" y="105.4" width="4.2" height="4.2" fill="#4aa888" stroke="#7fcfb0" stroke-width="0.5"/>
<text x="493.6" y="109.85" font-size="6.4" fill="#1e1e1e" stroke="#1e1e1e" stroke-width="0.22" textLength="18.5" lengthAdjust="spacingAndGlyphs">ST577</text>
<rect x="10.8" y="189.5" width="230.7" height="136.5" fill="#e9e8d7"/>
<text x="4.0" y="197.6" font-weight="bold" font-size="10.8" fill="#111">b</text>
<text x="45.8" y="195.8" font-size="6.0" fill="#1a1a1a" stroke="#1a1a1a" stroke-width="0.12" textLength="25.4" lengthAdjust="spacingAndGlyphs">ST-MGT4</text>
<line x1="34.6" y1="195.5" x2="34.6" y2="296.8" stroke="#777" stroke-width="0.8"/>
<line x1="33.2" y1="195.5" x2="34.6" y2="195.5" stroke="#777" stroke-width="0.6"/>
<g font-size="3.2" font-weight="bold" fill="#5a5a5a" text-anchor="end">
<line x1="32.4" y1="296.8" x2="34.6" y2="296.8" stroke="#777" stroke-width="0.5"/>
<text x="31" y="298.4">0</text>
<line x1="32.4" y1="287.13" x2="34.6" y2="287.13" stroke="#777" stroke-width="0.5"/>
<text x="31" y="288.73">10</text>
<line x1="32.4" y1="277.46" x2="34.6" y2="277.46" stroke="#777" stroke-width="0.5"/>
<text x="31" y="279.06">20</text>
<line x1="32.4" y1="267.79" x2="34.6" y2="267.79" stroke="#777" stroke-width="0.5"/>
<text x="31" y="269.39">30</text>
<line x1="32.4" y1="258.12" x2="34.6" y2="258.12" stroke="#777" stroke-width="0.5"/>
<text x="31" y="259.72">40</text>
<line x1="32.4" y1="248.45" x2="34.6" y2="248.45" stroke="#777" stroke-width="0.5"/>
<text x="31" y="250.05">50</text>
<line x1="32.4" y1="238.78" x2="34.6" y2="238.78" stroke="#777" stroke-width="0.5"/>
<text x="31" y="240.38">60</text>
<line x1="32.4" y1="229.11" x2="34.6" y2="229.11" stroke="#777" stroke-width="0.5"/>
<text x="31" y="230.71">70</text>
<line x1="32.4" y1="219.44" x2="34.6" y2="219.44" stroke="#777" stroke-width="0.5"/>
<text x="31" y="221.04">80</text>
<line x1="32.4" y1="209.77" x2="34.6" y2="209.77" stroke="#777" stroke-width="0.5"/>
<text x="31" y="211.37">90</text>
<line x1="32.4" y1="200.1" x2="34.6" y2="200.1" stroke="#777" stroke-width="0.5"/>
<text x="31" y="201.7">100</text>
</g>
<line x1="34.6" y1="296.8" x2="63" y2="296.8" stroke="#888" stroke-width="0.5"/>
<rect x="35" y="244" width="6.8" height="52.8" fill="#7a1414" stroke="#ffffff" stroke-opacity="0.45" stroke-width="0.4"/>
<rect x="35" y="215.67" width="6.8" height="28.33" fill="#3b55b2" stroke="#ffffff" stroke-opacity="0.45" stroke-width="0.4"/>
<rect x="35" y="213.83" width="6.8" height="1.84" fill="#62c3a2" stroke="#ffffff" stroke-opacity="0.45" stroke-width="0.4"/>
<rect x="35" y="212.38" width="6.8" height="1.45" fill="#4aa345" stroke="#ffffff" stroke-opacity="0.45" stroke-width="0.4"/>
<rect x="35" y="211.22" width="6.8" height="1.16" fill="#7d1616" stroke="#ffffff" stroke-opacity="0.45" stroke-width="0.4"/>
<rect x="35" y="210.45" width="6.8" height="0.77" fill="#a03ea6" stroke="#ffffff" stroke-opacity="0.45" stroke-width="0.4"/>
<rect x="35" y="208.51" width="6.8" height="1.93" fill="#c4418f" stroke="#ffffff" stroke-opacity="0.45" stroke-width="0.4"/>
<rect x="35" y="195.65" width="6.8" height="12.86" fill="#ffffff" stroke="#ffffff" stroke-opacity="0.45" stroke-width="0.4"/>
<rect x="35" y="195.65" width="6.8" height="101.15" fill="none" stroke="#ffffff" stroke-opacity="0.8" stroke-width="0.4"/>
<rect x="45" y="260.34" width="6.8" height="36.46" fill="#7a1414" stroke="#ffffff" stroke-opacity="0.45" stroke-width="0.4"/>
<rect x="45" y="239.26" width="6.8" height="21.08" fill="#3b55b2" stroke="#ffffff" stroke-opacity="0.45" stroke-width="0.4"/>
<rect x="45" y="235.11" width="6.8" height="4.16" fill="#62c3a2" stroke="#ffffff" stroke-opacity="0.45" stroke-width="0.4"/>
<rect x="45" y="233.17" width="6.8" height="1.93" fill="#1c2b6b" stroke="#ffffff" stroke-opacity="0.45" stroke-width="0.4"/>
<rect x="45" y="231.62" width="6.8" height="1.55" fill="#8dc971" stroke="#ffffff" stroke-opacity="0.45" stroke-width="0.4"/>
<rect x="45" y="215.86" width="6.8" height="15.76" fill="#ffffff" stroke="#ffffff" stroke-opacity="0.45" stroke-width="0.4"/>
<rect x="45" y="215.86" width="6.8" height="80.94" fill="none" stroke="#ffffff" stroke-opacity="0.8" stroke-width="0.4"/>
<rect x="55" y="279.49" width="6.8" height="17.31" fill="#7a1414" stroke="#ffffff" stroke-opacity="0.45" stroke-width="0.4"/>
<rect x="55" y="273.11" width="6.8" height="6.38" fill="#3b55b2" stroke="#ffffff" stroke-opacity="0.45" stroke-width="0.4"/>
<rect x="55" y="271.66" width="6.8" height="1.45" fill="#62c3a2" stroke="#ffffff" stroke-opacity="0.45" stroke-width="0.4"/>
<rect x="55" y="270.4" width="6.8" height="1.26" fill="#4a68b3" stroke="#ffffff" stroke-opacity="0.45" stroke-width="0.4"/>
<rect x="55" y="269.24" width="6.8" height="1.16" fill="#a03ea6" stroke="#ffffff" stroke-opacity="0.45" stroke-width="0.4"/>
<rect x="55" y="267.79" width="6.8" height="1.45" fill="#7d1616" stroke="#ffffff" stroke-opacity="0.45" stroke-width="0.4"/>
<rect x="55" y="261.99" width="6.8" height="5.8" fill="#ffffff" stroke="#ffffff" stroke-opacity="0.45" stroke-width="0.4"/>
<rect x="55" y="261.99" width="6.8" height="34.81" fill="none" stroke="#ffffff" stroke-opacity="0.8" stroke-width="0.4"/>
<rect x="35.0" y="195.65" width="6.8" height="12.86" fill="#fff" stroke="#aaa" stroke-width="0.35"/>
<rect x="45.0" y="215.86" width="6.8" height="15.76" fill="#fff" stroke="#aaa" stroke-width="0.35"/>
<rect x="55.0" y="261.99" width="6.8" height="5.8" fill="#fff" stroke="#aaa" stroke-width="0.35"/>
<g font-size="3.7" font-weight="bold" fill="#444" text-anchor="end">
<text transform="translate(39.5,299.8) rotate(-57)">2019</text>
<text transform="translate(49.5,299.8) rotate(-57)">2020</text>
<text transform="translate(59.5,299.8) rotate(-57)">2021</text>
</g>
<text x="43.6" y="323.8" font-weight="bold" font-size="5.5" fill="#222" textLength="11.2" lengthAdjust="spacingAndGlyphs">Year</text>
<text transform="translate(18.8,262.9) rotate(-90)" font-weight="bold" font-size="5.6" fill="#1a1a1a" textLength="33.0" lengthAdjust="spacingAndGlyphs">Isolate count</text>
<rect x="68.2" y="227" width="3.5" height="3.4" fill="#7a1414" stroke="#333" stroke-opacity="0.4" stroke-width="0.35"/>
<text x="75.3" y="230.9" font-size="5.49" fill="#1e1e1e" stroke="#1e1e1e" stroke-width="0.14" textLength="13.38" lengthAdjust="spacingAndGlyphs">ST21</text>
<rect x="68.2" y="232.07" width="3.5" height="3.4" fill="#3b55b2" stroke="#333" stroke-opacity="0.4" stroke-width="0.35"/>
<text x="75.3" y="235.97" font-size="5.49" fill="#1e1e1e" stroke="#1e1e1e" stroke-width="0.14" textLength="13.38" lengthAdjust="spacingAndGlyphs">ST46</text>
<rect x="68.2" y="237.14" width="3.5" height="3.4" fill="#62c3a2" stroke="#333" stroke-opacity="0.4" stroke-width="0.35"/>
<text x="75.3" y="241.04" font-size="5.49" fill="#1e1e1e" stroke="#1e1e1e" stroke-width="0.14" textLength="19.2" lengthAdjust="spacingAndGlyphs">ST4211</text>
<rect x="68.2" y="242.21" width="3.5" height="3.4" fill="#1c2b6b" stroke="#333" stroke-opacity="0.4" stroke-width="0.35"/>
<text x="75.3" y="246.11" font-size="5.49" fill="#1e1e1e" stroke="#1e1e1e" stroke-width="0.14" textLength="16.5" lengthAdjust="spacingAndGlyphs">ST585</text>
<rect x="68.2" y="247.28" width="3.5" height="3.4" fill="#4a68b3" stroke="#333" stroke-opacity="0.4" stroke-width="0.35"/>
<text x="75.3" y="251.18" font-size="5.49" fill="#1e1e1e" stroke="#1e1e1e" stroke-width="0.14" textLength="19.61" lengthAdjust="spacingAndGlyphs">ST5506</text>
<rect x="68.2" y="252.35" width="3.5" height="3.4" fill="#4aa345" stroke="#333" stroke-opacity="0.4" stroke-width="0.35"/>
<text x="75.3" y="256.25" font-size="5.49" fill="#1e1e1e" stroke="#1e1e1e" stroke-width="0.14" textLength="13.38" lengthAdjust="spacingAndGlyphs">ST48</text>
<rect x="68.2" y="257.42" width="3.5" height="3.4" fill="#8dc971" stroke="#333" stroke-opacity="0.4" stroke-width="0.35"/>
<text x="75.3" y="261.32" font-size="5.49" fill="#1e1e1e" stroke="#1e1e1e" stroke-width="0.14" textLength="19.61" lengthAdjust="spacingAndGlyphs">ST1690</text>
<rect x="68.2" y="262.49" width="3.5" height="3.4" fill="#7d1616" stroke="#333" stroke-opacity="0.4" stroke-width="0.35"/>
<text x="75.3" y="266.39" font-size="5.49" fill="#1e1e1e" stroke="#1e1e1e" stroke-width="0.14" textLength="19.61" lengthAdjust="spacingAndGlyphs">ST2681</text>
<rect x="68.2" y="267.56" width="3.5" height="3.4" fill="#a03ea6" stroke="#333" stroke-opacity="0.4" stroke-width="0.35"/>
<text x="75.3" y="271.46" font-size="5.49" fill="#1e1e1e" stroke="#1e1e1e" stroke-width="0.14" textLength="19.61" lengthAdjust="spacingAndGlyphs">ST2714</text>
<rect x="68.2" y="272.63" width="3.5" height="3.4" fill="#c4418f" stroke="#333" stroke-opacity="0.4" stroke-width="0.35"/>
<text x="75.3" y="276.53" font-size="5.49" fill="#1e1e1e" stroke="#1e1e1e" stroke-width="0.14" textLength="19.61" lengthAdjust="spacingAndGlyphs">ST2945</text>
<text x="184.8" y="195.8" font-size="6.0" fill="#1a1a1a" stroke="#1a1a1a" stroke-width="0.12" textLength="25.4" lengthAdjust="spacingAndGlyphs">ST-MGT6</text>
<line x1="172.0" y1="195.5" x2="172.0" y2="296.8" stroke="#777" stroke-width="0.8"/>
<line x1="170.6" y1="195.5" x2="172.0" y2="195.5" stroke="#777" stroke-width="0.6"/>
<g font-size="3.2" font-weight="bold" fill="#5a5a5a" text-anchor="end">
<line x1="169.8" y1="296.8" x2="172.0" y2="296.8" stroke="#777" stroke-width="0.5"/>
<text x="168.4" y="298.4">0</text>
<line x1="169.8" y1="287.13" x2="172.0" y2="287.13" stroke="#777" stroke-width="0.5"/>
<text x="168.4" y="288.73">10</text>
<line x1="169.8" y1="277.46" x2="172.0" y2="277.46" stroke="#777" stroke-width="0.5"/>
<text x="168.4" y="279.06">20</text>
<line x1="169.8" y1="267.79" x2="172.0" y2="267.79" stroke="#777" stroke-width="0.5"/>
<text x="168.4" y="269.39">30</text>
<line x1="169.8" y1="258.12" x2="172.0" y2="258.12" stroke="#777" stroke-width="0.5"/>
<text x="168.4" y="259.72">40</text>
<line x1="169.8" y1="248.45" x2="172.0" y2="248.45" stroke="#777" stroke-width="0.5"/>
<text x="168.4" y="250.05">50</text>
<line x1="169.8" y1="238.78" x2="172.0" y2="238.78" stroke="#777" stroke-width="0.5"/>
<text x="168.4" y="240.38">60</text>
<line x1="169.8" y1="229.11" x2="172.0" y2="229.11" stroke="#777" stroke-width="0.5"/>
<text x="168.4" y="230.71">70</text>
<line x1="169.8" y1="219.44" x2="172.0" y2="219.44" stroke="#777" stroke-width="0.5"/>
<text x="168.4" y="221.04">80</text>
<line x1="169.8" y1="209.77" x2="172.0" y2="209.77" stroke="#777" stroke-width="0.5"/>
<text x="168.4" y="211.37">90</text>
<line x1="169.8" y1="200.1" x2="172.0" y2="200.1" stroke="#777" stroke-width="0.5"/>
<text x="168.4" y="201.7">100</text>
</g>
<line x1="172" y1="296.8" x2="200" y2="296.8" stroke="#888" stroke-width="0.5"/>
<rect x="172.3" y="278.62" width="6.6" height="18.18" fill="#6fa6dc" stroke="#ffffff" stroke-opacity="0.45" stroke-width="0.4"/>
<rect x="172.3" y="276.78" width="6.6" height="1.84" fill="#7a1414" stroke="#ffffff" stroke-opacity="0.45" stroke-width="0.4"/>
<rect x="172.3" y="270.21" width="6.6" height="6.58" fill="#c6a1d2" stroke="#ffffff" stroke-opacity="0.45" stroke-width="0.4"/>
<rect x="172.3" y="265.66" width="6.6" height="4.54" fill="#7a3a1c" stroke="#ffffff" stroke-opacity="0.45" stroke-width="0.4"/>
<rect x="172.3" y="261.12" width="6.6" height="4.54" fill="#34496f" stroke="#ffffff" stroke-opacity="0.45" stroke-width="0.4"/>
<rect x="172.3" y="196.43" width="6.6" height="64.69" fill="#ffffff" stroke="#ffffff" stroke-opacity="0.45" stroke-width="0.4"/>
<rect x="172.3" y="196.43" width="6.6" height="100.37" fill="none" stroke="#ffffff" stroke-opacity="0.8" stroke-width="0.4"/>
<rect x="181.9" y="289.16" width="6.6" height="7.64" fill="#6fa6dc" stroke="#ffffff" stroke-opacity="0.45" stroke-width="0.4"/>
<rect x="181.9" y="284.91" width="6.6" height="4.25" fill="#7a1414" stroke="#ffffff" stroke-opacity="0.45" stroke-width="0.4"/>
<rect x="181.9" y="279.2" width="6.6" height="5.71" fill="#d69a2f" stroke="#ffffff" stroke-opacity="0.45" stroke-width="0.4"/>
<rect x="181.9" y="273.59" width="6.6" height="5.61" fill="#cfcb25" stroke="#ffffff" stroke-opacity="0.45" stroke-width="0.4"/>
<rect x="181.9" y="271.66" width="6.6" height="1.93" fill="#4b3a14" stroke="#ffffff" stroke-opacity="0.45" stroke-width="0.4"/>
<rect x="181.9" y="270.11" width="6.6" height="1.55" fill="#7a1414" stroke="#ffffff" stroke-opacity="0.45" stroke-width="0.4"/>
<rect x="181.9" y="266.34" width="6.6" height="3.77" fill="#c6a1d2" stroke="#ffffff" stroke-opacity="0.45" stroke-width="0.4"/>
<rect x="181.9" y="264.12" width="6.6" height="2.22" fill="#a39282" stroke="#ffffff" stroke-opacity="0.45" stroke-width="0.4"/>
<rect x="181.9" y="216.54" width="6.6" height="47.58" fill="#ffffff" stroke="#ffffff" stroke-opacity="0.45" stroke-width="0.4"/>
<rect x="181.9" y="216.54" width="6.6" height="80.26" fill="none" stroke="#ffffff" stroke-opacity="0.8" stroke-width="0.4"/>
<rect x="192.2" y="295.25" width="6.6" height="1.55" fill="#a03ea6" stroke="#ffffff" stroke-opacity="0.45" stroke-width="0.4"/>
<rect x="192.2" y="293.32" width="6.6" height="1.93" fill="#7a1414" stroke="#ffffff" stroke-opacity="0.45" stroke-width="0.4"/>
<rect x="192.2" y="291.77" width="6.6" height="1.55" fill="#d69a2f" stroke="#ffffff" stroke-opacity="0.45" stroke-width="0.4"/>
<rect x="192.2" y="289.64" width="6.6" height="2.13" fill="#4b3a14" stroke="#ffffff" stroke-opacity="0.45" stroke-width="0.4"/>
<rect x="192.2" y="287.32" width="6.6" height="2.32" fill="#6280c2" stroke="#ffffff" stroke-opacity="0.45" stroke-width="0.4"/>
<rect x="192.2" y="261.99" width="6.6" height="25.34" fill="#ffffff" stroke="#ffffff" stroke-opacity="0.45" stroke-width="0.4"/>
<rect x="192.2" y="261.99" width="6.6" height="34.81" fill="none" stroke="#ffffff" stroke-opacity="0.8" stroke-width="0.4"/>
<rect x="172.3" y="196.43" width="6.6" height="64.69" fill="#fff" stroke="#aaa" stroke-width="0.35"/>
<rect x="181.9" y="216.54" width="6.6" height="47.58" fill="#fff" stroke="#aaa" stroke-width="0.35"/>
<rect x="192.2" y="261.99" width="6.6" height="25.34" fill="#fff" stroke="#aaa" stroke-width="0.35"/>
<g font-size="3.7" font-weight="bold" fill="#444" text-anchor="end">
<text transform="translate(176.7,299.8) rotate(-57)">2019</text>
<text transform="translate(186.3,299.8) rotate(-57)">2020</text>
<text transform="translate(196.6,299.8) rotate(-57)">2021</text>
</g>
<text x="180.5" y="323.8" font-weight="bold" font-size="5.5" fill="#222" textLength="11.2" lengthAdjust="spacingAndGlyphs">Year</text>
<text transform="translate(155.4,261.8) rotate(-90)" font-weight="bold" font-size="5.0" fill="#1a1a1a" textLength="28.5" lengthAdjust="spacingAndGlyphs">Isolate count</text>
<rect x="205.2" y="227.05" width="2.9" height="2.9" fill="#6fa6dc" stroke="#333" stroke-opacity="0.4" stroke-width="0.35"/>
<text x="212.4" y="230.7" font-size="5.49" fill="#1e1e1e" stroke="#1e1e1e" stroke-width="0.14" textLength="19.2" lengthAdjust="spacingAndGlyphs">ST1136</text>
<rect x="205.2" y="232.15" width="2.9" height="2.9" fill="#7a1414" stroke="#333" stroke-opacity="0.4" stroke-width="0.35"/>
<text x="212.4" y="235.8" font-size="5.49" fill="#1e1e1e" stroke="#1e1e1e" stroke-width="0.14" textLength="13.38" lengthAdjust="spacingAndGlyphs">ST21</text>
<rect x="205.2" y="237.25" width="2.9" height="2.9" fill="#d69a2f" stroke="#333" stroke-opacity="0.4" stroke-width="0.35"/>
<text x="212.4" y="240.9" font-size="5.49" fill="#1e1e1e" stroke="#1e1e1e" stroke-width="0.14" textLength="22.73" lengthAdjust="spacingAndGlyphs">ST12900</text>
<rect x="205.2" y="242.35" width="2.9" height="2.9" fill="#c6a1d2" stroke="#333" stroke-opacity="0.4" stroke-width="0.35"/>
<text x="212.4" y="246" font-size="5.49" fill="#1e1e1e" stroke="#1e1e1e" stroke-width="0.14" textLength="19.61" lengthAdjust="spacingAndGlyphs">ST3496</text>
<rect x="205.2" y="247.45" width="2.9" height="2.9" fill="#cfcb25" stroke="#333" stroke-opacity="0.4" stroke-width="0.35"/>
<text x="212.4" y="251.1" font-size="5.49" fill="#1e1e1e" stroke="#1e1e1e" stroke-width="0.14" textLength="16.5" lengthAdjust="spacingAndGlyphs">ST863</text>
<rect x="205.2" y="252.55" width="2.9" height="2.9" fill="#4b3a14" stroke="#333" stroke-opacity="0.4" stroke-width="0.35"/>
<text x="212.4" y="256.2" font-size="5.49" fill="#1e1e1e" stroke="#1e1e1e" stroke-width="0.14" textLength="19.61" lengthAdjust="spacingAndGlyphs">ST5307</text>
<rect x="205.2" y="257.65" width="2.9" height="2.9" fill="#7a3a1c" stroke="#333" stroke-opacity="0.4" stroke-width="0.35"/>
<text x="212.4" y="261.3" font-size="5.49" fill="#1e1e1e" stroke="#1e1e1e" stroke-width="0.14" textLength="19.61" lengthAdjust="spacingAndGlyphs">ST5528</text>
<rect x="205.2" y="262.75" width="2.9" height="2.9" fill="#34496f" stroke="#333" stroke-opacity="0.4" stroke-width="0.35"/>
<text x="212.4" y="266.4" font-size="5.49" fill="#1e1e1e" stroke="#1e1e1e" stroke-width="0.14" textLength="13.38" lengthAdjust="spacingAndGlyphs">ST51</text>
<rect x="205.2" y="267.85" width="2.9" height="2.9" fill="#6280c2" stroke="#333" stroke-opacity="0.4" stroke-width="0.35"/>
<text x="212.4" y="271.5" font-size="5.49" fill="#1e1e1e" stroke="#1e1e1e" stroke-width="0.14" textLength="16.5" lengthAdjust="spacingAndGlyphs">ST787</text>
<rect x="205.2" y="272.95" width="2.9" height="2.9" fill="#a39282" stroke="#333" stroke-opacity="0.4" stroke-width="0.35"/>
<text x="212.4" y="276.6" font-size="5.49" fill="#1e1e1e" stroke="#1e1e1e" stroke-width="0.14" textLength="19.61" lengthAdjust="spacingAndGlyphs">ST6356</text>
<rect x="247.9" y="190.6" width="269.9" height="135.4" fill="#e9e8d7"/>
<text x="250.2" y="197.7" font-weight="bold" font-size="10.8" fill="#111">c</text>
<line x1="273.4" y1="192" x2="273.4" y2="302.2" stroke="#777" stroke-width="0.8"/>
<line x1="272" y1="192" x2="273.4" y2="192" stroke="#777" stroke-width="0.6"/>
<g font-size="3.3" font-weight="bold" fill="#5a5a5a" text-anchor="end">
<line x1="271.2" y1="302.2" x2="273.4" y2="302.2" stroke="#777" stroke-width="0.5"/>
<text x="269.8" y="303.85">0</text>
<line x1="271.2" y1="292.5" x2="273.4" y2="292.5" stroke="#777" stroke-width="0.5"/>
<text x="269.8" y="294.15">50</text>
<line x1="271.2" y1="282.8" x2="273.4" y2="282.8" stroke="#777" stroke-width="0.5"/>
<text x="269.8" y="284.45">100</text>
<line x1="271.2" y1="273.1" x2="273.4" y2="273.1" stroke="#777" stroke-width="0.5"/>
<text x="269.8" y="274.75">150</text>
<line x1="271.2" y1="263.4" x2="273.4" y2="263.4" stroke="#777" stroke-width="0.5"/>
<text x="269.8" y="265.05">200</text>
<line x1="271.2" y1="253.7" x2="273.4" y2="253.7" stroke="#777" stroke-width="0.5"/>
<text x="269.8" y="255.35">250</text>
<line x1="271.2" y1="244" x2="273.4" y2="244" stroke="#777" stroke-width="0.5"/>
<text x="269.8" y="245.65">300</text>
<line x1="271.2" y1="234.3" x2="273.4" y2="234.3" stroke="#777" stroke-width="0.5"/>
<text x="269.8" y="235.95">350</text>
<line x1="271.2" y1="224.6" x2="273.4" y2="224.6" stroke="#777" stroke-width="0.5"/>
<text x="269.8" y="226.25">400</text>
<line x1="271.2" y1="214.9" x2="273.4" y2="214.9" stroke="#777" stroke-width="0.5"/>
<text x="269.8" y="216.55">450</text>
<line x1="271.2" y1="205.2" x2="273.4" y2="205.2" stroke="#777" stroke-width="0.5"/>
<text x="269.8" y="206.85">500</text>
<line x1="271.2" y1="195.5" x2="273.4" y2="195.5" stroke="#777" stroke-width="0.5"/>
<text x="269.8" y="197.15">550</text>
</g>
<rect x="273.4" y="300.64" width="7.6" height="1.56" fill="#722570" stroke="#ffffff" stroke-opacity="0.45" stroke-width="0.45"/>
<rect x="273.4" y="288.94" width="7.6" height="11.7" fill="#3840a9" stroke="#ffffff" stroke-opacity="0.45" stroke-width="0.45"/>
<rect x="273.4" y="288.5" width="7.6" height="0.44" fill="#62c79d" stroke="#ffffff" stroke-opacity="0.45" stroke-width="0.45"/>
<rect x="273.4" y="287.46" width="7.6" height="1.04" fill="#40ae4f" stroke="#ffffff" stroke-opacity="0.45" stroke-width="0.45"/>
<rect x="273.4" y="278.44" width="7.6" height="9.02" fill="#98cf75" stroke="#ffffff" stroke-opacity="0.45" stroke-width="0.45"/>
<rect x="273.4" y="276.2" width="7.6" height="2.24" fill="#c2256f" stroke="#ffffff" stroke-opacity="0.45" stroke-width="0.45"/>
<rect x="273.4" y="276.2" width="7.6" height="26" fill="none" stroke="#ffffff" stroke-opacity="0.8" stroke-width="0.45"/>
<rect x="282.58" y="300.97" width="7.6" height="1.23" fill="#722570" stroke="#ffffff" stroke-opacity="0.45" stroke-width="0.45"/>
<rect x="282.58" y="298.36" width="7.6" height="2.61" fill="#3840a9" stroke="#ffffff" stroke-opacity="0.45" stroke-width="0.45"/>
<rect x="282.58" y="297.94" width="7.6" height="0.42" fill="#40ae4f" stroke="#ffffff" stroke-opacity="0.45" stroke-width="0.45"/>
<rect x="282.58" y="297.74" width="7.6" height="0.2" fill="#c07b2c" stroke="#ffffff" stroke-opacity="0.45" stroke-width="0.45"/>
<rect x="282.58" y="297.74" width="7.6" height="4.46" fill="none" stroke="#ffffff" stroke-opacity="0.8" stroke-width="0.45"/>
<rect x="291.76" y="289.26" width="7.6" height="12.94" fill="#722570" stroke="#ffffff" stroke-opacity="0.45" stroke-width="0.45"/>
<rect x="291.76" y="260.67" width="7.6" height="28.6" fill="#3840a9" stroke="#ffffff" stroke-opacity="0.45" stroke-width="0.45"/>
<rect x="291.76" y="257.48" width="7.6" height="3.18" fill="#62c79d" stroke="#ffffff" stroke-opacity="0.45" stroke-width="0.45"/>
<rect x="291.76" y="255.49" width="7.6" height="1.99" fill="#40ae4f" stroke="#ffffff" stroke-opacity="0.45" stroke-width="0.45"/>
<rect x="291.76" y="244.54" width="7.6" height="10.95" fill="#98cf75" stroke="#ffffff" stroke-opacity="0.45" stroke-width="0.45"/>
<rect x="291.76" y="239.97" width="7.6" height="4.58" fill="#c2256f" stroke="#ffffff" stroke-opacity="0.45" stroke-width="0.45"/>
<rect x="291.76" y="235.85" width="7.6" height="4.11" fill="#c07b2c" stroke="#ffffff" stroke-opacity="0.45" stroke-width="0.45"/>
<rect x="291.76" y="235.85" width="7.6" height="66.35" fill="none" stroke="#ffffff" stroke-opacity="0.8" stroke-width="0.45"/>
<rect x="300.94" y="285" width="7.6" height="17.2" fill="#722570" stroke="#ffffff" stroke-opacity="0.45" stroke-width="0.45"/>
<rect x="300.94" y="246.9" width="7.6" height="38.1" fill="#3840a9" stroke="#ffffff" stroke-opacity="0.45" stroke-width="0.45"/>
<rect x="300.94" y="242.33" width="7.6" height="4.57" fill="#62c79d" stroke="#ffffff" stroke-opacity="0.45" stroke-width="0.45"/>
<rect x="300.94" y="239.41" width="7.6" height="2.92" fill="#40ae4f" stroke="#ffffff" stroke-opacity="0.45" stroke-width="0.45"/>
<rect x="300.94" y="225.42" width="7.6" height="14" fill="#98cf75" stroke="#ffffff" stroke-opacity="0.45" stroke-width="0.45"/>
<rect x="300.94" y="220.36" width="7.6" height="5.05" fill="#c2256f" stroke="#ffffff" stroke-opacity="0.45" stroke-width="0.45"/>
<rect x="300.94" y="208.02" width="7.6" height="12.34" fill="#4b55b6" stroke="#ffffff" stroke-opacity="0.45" stroke-width="0.45"/>
<rect x="300.94" y="205.01" width="7.6" height="3.01" fill="#c07b2c" stroke="#ffffff" stroke-opacity="0.45" stroke-width="0.45"/>
<rect x="300.94" y="205.01" width="7.6" height="97.19" fill="none" stroke="#ffffff" stroke-opacity="0.8" stroke-width="0.45"/>
<rect x="310.12" y="272.2" width="7.6" height="30" fill="#722570" stroke="#ffffff" stroke-opacity="0.45" stroke-width="0.45"/>
<rect x="310.12" y="258.69" width="7.6" height="13.51" fill="#3840a9" stroke="#ffffff" stroke-opacity="0.45" stroke-width="0.45"/>
<rect x="310.12" y="251.98" width="7.6" height="6.71" fill="#52b296" stroke="#ffffff" stroke-opacity="0.45" stroke-width="0.45"/>
<rect x="310.12" y="240.48" width="7.6" height="11.5" fill="#62c79d" stroke="#ffffff" stroke-opacity="0.45" stroke-width="0.45"/>
<rect x="310.12" y="233.01" width="7.6" height="7.48" fill="#40ae4f" stroke="#ffffff" stroke-opacity="0.45" stroke-width="0.45"/>
<rect x="310.12" y="227.26" width="7.6" height="5.75" fill="#98cf75" stroke="#ffffff" stroke-opacity="0.45" stroke-width="0.45"/>
<rect x="310.12" y="218.15" width="7.6" height="9.1" fill="#c2256f" stroke="#ffffff" stroke-opacity="0.45" stroke-width="0.45"/>
<rect x="310.12" y="208.18" width="7.6" height="9.97" fill="#4b55b6" stroke="#ffffff" stroke-opacity="0.45" stroke-width="0.45"/>
<rect x="310.12" y="206.36" width="7.6" height="1.82" fill="#c07b2c" stroke="#ffffff" stroke-opacity="0.45" stroke-width="0.45"/>
<rect x="310.12" y="206.36" width="7.6" height="95.84" fill="none" stroke="#ffffff" stroke-opacity="0.8" stroke-width="0.45"/>
<rect x="319.3" y="275.27" width="7.6" height="26.93" fill="#722570" stroke="#ffffff" stroke-opacity="0.45" stroke-width="0.45"/>
<rect x="319.3" y="253.27" width="7.6" height="21.99" fill="#9a48aa" stroke="#ffffff" stroke-opacity="0.45" stroke-width="0.45"/>
<rect x="319.3" y="249.24" width="7.6" height="4.04" fill="#3840a9" stroke="#ffffff" stroke-opacity="0.45" stroke-width="0.45"/>
<rect x="319.3" y="240.46" width="7.6" height="8.78" fill="#62c79d" stroke="#ffffff" stroke-opacity="0.45" stroke-width="0.45"/>
<rect x="319.3" y="219.48" width="7.6" height="20.98" fill="#52b296" stroke="#ffffff" stroke-opacity="0.45" stroke-width="0.45"/>
<rect x="319.3" y="209.49" width="7.6" height="9.99" fill="#40ae4f" stroke="#ffffff" stroke-opacity="0.45" stroke-width="0.45"/>
<rect x="319.3" y="204.25" width="7.6" height="5.25" fill="#c2256f" stroke="#ffffff" stroke-opacity="0.45" stroke-width="0.45"/>
<rect x="319.3" y="201.32" width="7.6" height="2.93" fill="#c07b2c" stroke="#ffffff" stroke-opacity="0.45" stroke-width="0.45"/>
<rect x="319.3" y="201.32" width="7.6" height="100.88" fill="none" stroke="#ffffff" stroke-opacity="0.8" stroke-width="0.45"/>
<rect x="328.48" y="278.65" width="7.6" height="23.55" fill="#722570" stroke="#ffffff" stroke-opacity="0.45" stroke-width="0.45"/>
<rect x="328.48" y="225.57" width="7.6" height="53.08" fill="#9a48aa" stroke="#ffffff" stroke-opacity="0.45" stroke-width="0.45"/>
<rect x="328.48" y="211.19" width="7.6" height="14.38" fill="#62c79d" stroke="#ffffff" stroke-opacity="0.45" stroke-width="0.45"/>
<rect x="328.48" y="207.32" width="7.6" height="3.87" fill="#52b296" stroke="#ffffff" stroke-opacity="0.45" stroke-width="0.45"/>
<rect x="328.48" y="195.27" width="7.6" height="12.05" fill="#40ae4f" stroke="#ffffff" stroke-opacity="0.45" stroke-width="0.45"/>
<rect x="328.48" y="193.06" width="7.6" height="2.21" fill="#c2256f" stroke="#ffffff" stroke-opacity="0.45" stroke-width="0.45"/>
<rect x="328.48" y="191.62" width="7.6" height="1.44" fill="#c07b2c" stroke="#ffffff" stroke-opacity="0.45" stroke-width="0.45"/>
<rect x="328.48" y="191.62" width="7.6" height="110.58" fill="none" stroke="#ffffff" stroke-opacity="0.8" stroke-width="0.45"/>
<rect x="337.66" y="281.63" width="7.6" height="20.57" fill="#722570" stroke="#ffffff" stroke-opacity="0.45" stroke-width="0.45"/>
<rect x="337.66" y="269.48" width="7.6" height="12.15" fill="#9a48aa" stroke="#ffffff" stroke-opacity="0.45" stroke-width="0.45"/>
<rect x="337.66" y="257.61" width="7.6" height="11.87" fill="#62c79d" stroke="#ffffff" stroke-opacity="0.45" stroke-width="0.45"/>
<rect x="337.66" y="251.1" width="7.6" height="6.51" fill="#40ae4f" stroke="#ffffff" stroke-opacity="0.45" stroke-width="0.45"/>
<rect x="337.66" y="249.46" width="7.6" height="1.64" fill="#c2256f" stroke="#ffffff" stroke-opacity="0.45" stroke-width="0.45"/>
<rect x="337.66" y="247.49" width="7.6" height="1.97" fill="#c07b2c" stroke="#ffffff" stroke-opacity="0.45" stroke-width="0.45"/>
<rect x="337.66" y="247.49" width="7.6" height="54.71" fill="none" stroke="#ffffff" stroke-opacity="0.8" stroke-width="0.45"/>
<rect x="346.84" y="285.75" width="7.6" height="16.45" fill="#722570" stroke="#ffffff" stroke-opacity="0.45" stroke-width="0.45"/>
<rect x="346.84" y="278.07" width="7.6" height="7.68" fill="#9a48aa" stroke="#ffffff" stroke-opacity="0.45" stroke-width="0.45"/>
<rect x="346.84" y="262.01" width="7.6" height="16.05" fill="#62c79d" stroke="#ffffff" stroke-opacity="0.45" stroke-width="0.45"/>
<rect x="346.84" y="257.68" width="7.6" height="4.34" fill="#52b296" stroke="#ffffff" stroke-opacity="0.45" stroke-width="0.45"/>
<rect x="346.84" y="255.03" width="7.6" height="2.64" fill="#40ae4f" stroke="#ffffff" stroke-opacity="0.45" stroke-width="0.45"/>
<rect x="346.84" y="253.74" width="7.6" height="1.3" fill="#c2256f" stroke="#ffffff" stroke-opacity="0.45" stroke-width="0.45"/>
<rect x="346.84" y="252.34" width="7.6" height="1.4" fill="#c07b2c" stroke="#ffffff" stroke-opacity="0.45" stroke-width="0.45"/>
<rect x="346.84" y="252.34" width="7.6" height="49.86" fill="none" stroke="#ffffff" stroke-opacity="0.8" stroke-width="0.45"/>
<rect x="356.02" y="294.94" width="7.6" height="7.26" fill="#722570" stroke="#ffffff" stroke-opacity="0.45" stroke-width="0.45"/>
<rect x="356.02" y="293.85" width="7.6" height="1.09" fill="#9a48aa" stroke="#ffffff" stroke-opacity="0.45" stroke-width="0.45"/>
<rect x="356.02" y="290.19" width="7.6" height="3.66" fill="#62c79d" stroke="#ffffff" stroke-opacity="0.45" stroke-width="0.45"/>
<rect x="356.02" y="288.23" width="7.6" height="1.96" fill="#40ae4f" stroke="#ffffff" stroke-opacity="0.45" stroke-width="0.45"/>
<rect x="356.02" y="288.23" width="7.6" height="13.97" fill="none" stroke="#ffffff" stroke-opacity="0.8" stroke-width="0.45"/>
<line x1="273.4" y1="302.2" x2="365" y2="302.2" stroke="#888" stroke-width="0.5"/>
<g font-size="3.9" font-weight="bold" fill="#444" text-anchor="end">
<text transform="translate(277.8,305.4) rotate(-57)">2012</text>
<text transform="translate(286.98,305.4) rotate(-57)">2013</text>
<text transform="translate(296.16,305.4) rotate(-57)">2014</text>
<text transform="translate(305.34,305.4) rotate(-57)">2015</text>
<text transform="translate(314.52,305.4) rotate(-57)">2016</text>
<text transform="translate(323.7,305.4) rotate(-57)">2017</text>
<text transform="translate(332.88,305.4) rotate(-57)">2018</text>
<text transform="translate(342.06,305.4) rotate(-57)">2019</text>
<text transform="translate(351.24,305.4) rotate(-57)">2020</text>
<text transform="translate(360.42,305.4) rotate(-57)">2021</text>
</g>
<text x="313.4" y="323.9" font-weight="bold" font-size="5.5" fill="#222" textLength="11.0" lengthAdjust="spacingAndGlyphs">Year</text>
<text transform="translate(255.9,264.2) rotate(-90)" font-weight="bold" font-size="5.9" fill="#1a1a1a" textLength="36.0" lengthAdjust="spacingAndGlyphs">Isolate count</text>
<line x1="391.6" y1="192.5" x2="391.6" y2="302.2" stroke="#777" stroke-width="0.8"/>
<g font-size="3.3" font-weight="bold" fill="#5a5a5a" text-anchor="end">
<line x1="389.4" y1="302.2" x2="391.6" y2="302.2" stroke="#777" stroke-width="0.5"/>
<text x="388" y="303.85">0</text>
<line x1="389.4" y1="291.23" x2="391.6" y2="291.23" stroke="#777" stroke-width="0.5"/>
<text x="388" y="292.88">10</text>
<line x1="389.4" y1="280.26" x2="391.6" y2="280.26" stroke="#777" stroke-width="0.5"/>
<text x="388" y="281.91">20</text>
<line x1="389.4" y1="269.29" x2="391.6" y2="269.29" stroke="#777" stroke-width="0.5"/>
<text x="388" y="270.94">30</text>
<line x1="389.4" y1="258.32" x2="391.6" y2="258.32" stroke="#777" stroke-width="0.5"/>
<text x="388" y="259.97">40</text>
<line x1="389.4" y1="247.35" x2="391.6" y2="247.35" stroke="#777" stroke-width="0.5"/>
<text x="388" y="249">50</text>
<line x1="389.4" y1="236.38" x2="391.6" y2="236.38" stroke="#777" stroke-width="0.5"/>
<text x="388" y="238.03">60</text>
<line x1="389.4" y1="225.41" x2="391.6" y2="225.41" stroke="#777" stroke-width="0.5"/>
<text x="388" y="227.06">70</text>
<line x1="389.4" y1="214.44" x2="391.6" y2="214.44" stroke="#777" stroke-width="0.5"/>
<text x="388" y="216.09">80</text>
<line x1="389.4" y1="203.47" x2="391.6" y2="203.47" stroke="#777" stroke-width="0.5"/>
<text x="388" y="205.12">90</text>
<line x1="389.4" y1="192.5" x2="391.6" y2="192.5" stroke="#777" stroke-width="0.5"/>
<text x="388" y="194.15">100</text>
</g>
<rect x="391.7" y="295.62" width="7.6" height="6.58" fill="#722570" stroke="#ffffff" stroke-opacity="0.45" stroke-width="0.45"/>
<rect x="391.7" y="246.25" width="7.6" height="49.37" fill="#3840a9" stroke="#ffffff" stroke-opacity="0.45" stroke-width="0.45"/>
<rect x="391.7" y="244.39" width="7.6" height="1.86" fill="#62c79d" stroke="#ffffff" stroke-opacity="0.45" stroke-width="0.45"/>
<rect x="391.7" y="240" width="7.6" height="4.39" fill="#40ae4f" stroke="#ffffff" stroke-opacity="0.45" stroke-width="0.45"/>
<rect x="391.7" y="201.93" width="7.6" height="38.07" fill="#98cf75" stroke="#ffffff" stroke-opacity="0.45" stroke-width="0.45"/>
<rect x="391.7" y="192.5" width="7.6" height="9.43" fill="#c2256f" stroke="#ffffff" stroke-opacity="0.45" stroke-width="0.45"/>
<rect x="391.7" y="192.5" width="7.6" height="109.7" fill="none" stroke="#ffffff" stroke-opacity="0.8" stroke-width="0.45"/>
<rect x="400.85" y="271.92" width="7.6" height="30.28" fill="#722570" stroke="#ffffff" stroke-opacity="0.45" stroke-width="0.45"/>
<rect x="400.85" y="207.86" width="7.6" height="64.06" fill="#3840a9" stroke="#ffffff" stroke-opacity="0.45" stroke-width="0.45"/>
<rect x="400.85" y="197.44" width="7.6" height="10.42" fill="#40ae4f" stroke="#ffffff" stroke-opacity="0.45" stroke-width="0.45"/>
<rect x="400.85" y="192.5" width="7.6" height="4.94" fill="#c07b2c" stroke="#ffffff" stroke-opacity="0.45" stroke-width="0.45"/>
<rect x="400.85" y="192.5" width="7.6" height="109.7" fill="none" stroke="#ffffff" stroke-opacity="0.8" stroke-width="0.45"/>
<rect x="410" y="280.81" width="7.6" height="21.39" fill="#722570" stroke="#ffffff" stroke-opacity="0.45" stroke-width="0.45"/>
<rect x="410" y="233.53" width="7.6" height="47.28" fill="#3840a9" stroke="#ffffff" stroke-opacity="0.45" stroke-width="0.45"/>
<rect x="410" y="228.26" width="7.6" height="5.27" fill="#62c79d" stroke="#ffffff" stroke-opacity="0.45" stroke-width="0.45"/>
<rect x="410" y="224.97" width="7.6" height="3.29" fill="#40ae4f" stroke="#ffffff" stroke-opacity="0.45" stroke-width="0.45"/>
<rect x="410" y="206.87" width="7.6" height="18.1" fill="#98cf75" stroke="#ffffff" stroke-opacity="0.45" stroke-width="0.45"/>
<rect x="410" y="199.3" width="7.6" height="7.57" fill="#c2256f" stroke="#ffffff" stroke-opacity="0.45" stroke-width="0.45"/>
<rect x="410" y="192.5" width="7.6" height="6.8" fill="#c07b2c" stroke="#ffffff" stroke-opacity="0.45" stroke-width="0.45"/>
<rect x="410" y="192.5" width="7.6" height="109.7" fill="none" stroke="#ffffff" stroke-opacity="0.8" stroke-width="0.45"/>
<rect x="419.15" y="282.78" width="7.6" height="19.42" fill="#722570" stroke="#ffffff" stroke-opacity="0.45" stroke-width="0.45"/>
<rect x="419.15" y="239.78" width="7.6" height="43" fill="#3840a9" stroke="#ffffff" stroke-opacity="0.45" stroke-width="0.45"/>
<rect x="419.15" y="234.62" width="7.6" height="5.16" fill="#62c79d" stroke="#ffffff" stroke-opacity="0.45" stroke-width="0.45"/>
<rect x="419.15" y="231.33" width="7.6" height="3.29" fill="#40ae4f" stroke="#ffffff" stroke-opacity="0.45" stroke-width="0.45"/>
<rect x="419.15" y="215.54" width="7.6" height="15.8" fill="#98cf75" stroke="#ffffff" stroke-opacity="0.45" stroke-width="0.45"/>
<rect x="419.15" y="209.83" width="7.6" height="5.7" fill="#c2256f" stroke="#ffffff" stroke-opacity="0.45" stroke-width="0.45"/>
<rect x="419.15" y="195.9" width="7.6" height="13.93" fill="#4b55b6" stroke="#ffffff" stroke-opacity="0.45" stroke-width="0.45"/>
<rect x="419.15" y="192.5" width="7.6" height="3.4" fill="#c07b2c" stroke="#ffffff" stroke-opacity="0.45" stroke-width="0.45"/>
<rect x="419.15" y="192.5" width="7.6" height="109.7" fill="none" stroke="#ffffff" stroke-opacity="0.8" stroke-width="0.45"/>
<rect x="428.3" y="267.86" width="7.6" height="34.34" fill="#722570" stroke="#ffffff" stroke-opacity="0.45" stroke-width="0.45"/>
<rect x="428.3" y="252.4" width="7.6" height="15.47" fill="#3840a9" stroke="#ffffff" stroke-opacity="0.45" stroke-width="0.45"/>
<rect x="428.3" y="244.72" width="7.6" height="7.68" fill="#52b296" stroke="#ffffff" stroke-opacity="0.45" stroke-width="0.45"/>
<rect x="428.3" y="231.55" width="7.6" height="13.16" fill="#62c79d" stroke="#ffffff" stroke-opacity="0.45" stroke-width="0.45"/>
<rect x="428.3" y="223" width="7.6" height="8.56" fill="#40ae4f" stroke="#ffffff" stroke-opacity="0.45" stroke-width="0.45"/>
<rect x="428.3" y="216.41" width="7.6" height="6.58" fill="#98cf75" stroke="#ffffff" stroke-opacity="0.45" stroke-width="0.45"/>
<rect x="428.3" y="205.99" width="7.6" height="10.42" fill="#c2256f" stroke="#ffffff" stroke-opacity="0.45" stroke-width="0.45"/>
<rect x="428.3" y="194.58" width="7.6" height="11.41" fill="#4b55b6" stroke="#ffffff" stroke-opacity="0.45" stroke-width="0.45"/>
<rect x="428.3" y="192.5" width="7.6" height="2.08" fill="#c07b2c" stroke="#ffffff" stroke-opacity="0.45" stroke-width="0.45"/>
<rect x="428.3" y="192.5" width="7.6" height="109.7" fill="none" stroke="#ffffff" stroke-opacity="0.8" stroke-width="0.45"/>
<rect x="437.45" y="272.91" width="7.6" height="29.29" fill="#722570" stroke="#ffffff" stroke-opacity="0.45" stroke-width="0.45"/>
<rect x="437.45" y="249" width="7.6" height="23.91" fill="#9a48aa" stroke="#ffffff" stroke-opacity="0.45" stroke-width="0.45"/>
<rect x="437.45" y="244.61" width="7.6" height="4.39" fill="#3840a9" stroke="#ffffff" stroke-opacity="0.45" stroke-width="0.45"/>
<rect x="437.45" y="235.06" width="7.6" height="9.54" fill="#62c79d" stroke="#ffffff" stroke-opacity="0.45" stroke-width="0.45"/>
<rect x="437.45" y="212.25" width="7.6" height="22.82" fill="#52b296" stroke="#ffffff" stroke-opacity="0.45" stroke-width="0.45"/>
<rect x="437.45" y="201.39" width="7.6" height="10.86" fill="#40ae4f" stroke="#ffffff" stroke-opacity="0.45" stroke-width="0.45"/>
<rect x="437.45" y="195.68" width="7.6" height="5.7" fill="#c2256f" stroke="#ffffff" stroke-opacity="0.45" stroke-width="0.45"/>
<rect x="437.45" y="192.5" width="7.6" height="3.18" fill="#c07b2c" stroke="#ffffff" stroke-opacity="0.45" stroke-width="0.45"/>
<rect x="437.45" y="192.5" width="7.6" height="109.7" fill="none" stroke="#ffffff" stroke-opacity="0.8" stroke-width="0.45"/>
<rect x="446.6" y="278.83" width="7.6" height="23.37" fill="#722570" stroke="#ffffff" stroke-opacity="0.45" stroke-width="0.45"/>
<rect x="446.6" y="226.18" width="7.6" height="52.66" fill="#9a48aa" stroke="#ffffff" stroke-opacity="0.45" stroke-width="0.45"/>
<rect x="446.6" y="211.92" width="7.6" height="14.26" fill="#62c79d" stroke="#ffffff" stroke-opacity="0.45" stroke-width="0.45"/>
<rect x="446.6" y="208.08" width="7.6" height="3.84" fill="#52b296" stroke="#ffffff" stroke-opacity="0.45" stroke-width="0.45"/>
<rect x="446.6" y="196.12" width="7.6" height="11.96" fill="#40ae4f" stroke="#ffffff" stroke-opacity="0.45" stroke-width="0.45"/>
<rect x="446.6" y="193.93" width="7.6" height="2.19" fill="#c2256f" stroke="#ffffff" stroke-opacity="0.45" stroke-width="0.45"/>
<rect x="446.6" y="192.5" width="7.6" height="1.43" fill="#c07b2c" stroke="#ffffff" stroke-opacity="0.45" stroke-width="0.45"/>
<rect x="446.6" y="192.5" width="7.6" height="109.7" fill="none" stroke="#ffffff" stroke-opacity="0.8" stroke-width="0.45"/>
<rect x="455.75" y="260.95" width="7.6" height="41.25" fill="#722570" stroke="#ffffff" stroke-opacity="0.45" stroke-width="0.45"/>
<rect x="455.75" y="236.6" width="7.6" height="24.35" fill="#9a48aa" stroke="#ffffff" stroke-opacity="0.45" stroke-width="0.45"/>
<rect x="455.75" y="212.79" width="7.6" height="23.8" fill="#62c79d" stroke="#ffffff" stroke-opacity="0.45" stroke-width="0.45"/>
<rect x="455.75" y="199.74" width="7.6" height="13.05" fill="#40ae4f" stroke="#ffffff" stroke-opacity="0.45" stroke-width="0.45"/>
<rect x="455.75" y="196.45" width="7.6" height="3.29" fill="#c2256f" stroke="#ffffff" stroke-opacity="0.45" stroke-width="0.45"/>
<rect x="455.75" y="192.5" width="7.6" height="3.95" fill="#c07b2c" stroke="#ffffff" stroke-opacity="0.45" stroke-width="0.45"/>
<rect x="455.75" y="192.5" width="7.6" height="109.7" fill="none" stroke="#ffffff" stroke-opacity="0.8" stroke-width="0.45"/>
<rect x="464.9" y="266" width="7.6" height="36.2" fill="#722570" stroke="#ffffff" stroke-opacity="0.45" stroke-width="0.45"/>
<rect x="464.9" y="249.11" width="7.6" height="16.89" fill="#9a48aa" stroke="#ffffff" stroke-opacity="0.45" stroke-width="0.45"/>
<rect x="464.9" y="213.78" width="7.6" height="35.32" fill="#62c79d" stroke="#ffffff" stroke-opacity="0.45" stroke-width="0.45"/>
<rect x="464.9" y="204.24" width="7.6" height="9.54" fill="#52b296" stroke="#ffffff" stroke-opacity="0.45" stroke-width="0.45"/>
<rect x="464.9" y="198.42" width="7.6" height="5.81" fill="#40ae4f" stroke="#ffffff" stroke-opacity="0.45" stroke-width="0.45"/>
<rect x="464.9" y="195.57" width="7.6" height="2.85" fill="#c2256f" stroke="#ffffff" stroke-opacity="0.45" stroke-width="0.45"/>
<rect x="464.9" y="192.5" width="7.6" height="3.07" fill="#c07b2c" stroke="#ffffff" stroke-opacity="0.45" stroke-width="0.45"/>
<rect x="464.9" y="192.5" width="7.6" height="109.7" fill="none" stroke="#ffffff" stroke-opacity="0.8" stroke-width="0.45"/>
<rect x="474.05" y="245.16" width="7.6" height="57.04" fill="#722570" stroke="#ffffff" stroke-opacity="0.45" stroke-width="0.45"/>
<rect x="474.05" y="236.6" width="7.6" height="8.56" fill="#9a48aa" stroke="#ffffff" stroke-opacity="0.45" stroke-width="0.45"/>
<rect x="474.05" y="207.86" width="7.6" height="28.74" fill="#62c79d" stroke="#ffffff" stroke-opacity="0.45" stroke-width="0.45"/>
<rect x="474.05" y="192.5" width="7.6" height="15.36" fill="#40ae4f" stroke="#ffffff" stroke-opacity="0.45" stroke-width="0.45"/>
<rect x="474.05" y="192.5" width="7.6" height="109.7" fill="none" stroke="#ffffff" stroke-opacity="0.8" stroke-width="0.45"/>
<line x1="391.6" y1="302.2" x2="483" y2="302.2" stroke="#888" stroke-width="0.5"/>
<g font-size="3.9" font-weight="bold" fill="#444" text-anchor="end">
<text transform="translate(396.05,305.4) rotate(-57)">2012</text>
<text transform="translate(405.2,305.4) rotate(-57)">2013</text>
<text transform="translate(414.35,305.4) rotate(-57)">2014</text>
<text transform="translate(423.5,305.4) rotate(-57)">2015</text>
<text transform="translate(432.65,305.4) rotate(-57)">2016</text>
<text transform="translate(441.8,305.4) rotate(-57)">2017</text>
<text transform="translate(450.95,305.4) rotate(-57)">2018</text>
<text transform="translate(460.1,305.4) rotate(-57)">2019</text>
<text transform="translate(469.25,305.4) rotate(-57)">2020</text>
<text transform="translate(478.4,305.4) rotate(-57)">2021</text>
</g>
<text x="431.6" y="323.9" font-weight="bold" font-size="5.5" fill="#222" textLength="12.0" lengthAdjust="spacingAndGlyphs">Year</text>
<text transform="translate(374.4,273.4) rotate(-90)" font-weight="bold" font-size="5.7" fill="#1a1a1a" textLength="52.0" lengthAdjust="spacingAndGlyphs">Percentage isolates</text>
<rect x="487.2" y="223.4" width="3.6" height="3.6" fill="#722570" stroke="#333" stroke-opacity="0.4" stroke-width="0.35"/>
<text x="494.8" y="227.4" font-size="5.78" fill="#1e1e1e" stroke="#1e1e1e" stroke-width="0.14" textLength="20.66" lengthAdjust="spacingAndGlyphs">ST3307</text>
<rect x="487.2" y="228.9" width="3.6" height="3.6" fill="#9a48aa" stroke="#333" stroke-opacity="0.4" stroke-width="0.35"/>
<text x="494.8" y="232.9" font-size="5.78" fill="#1e1e1e" stroke="#1e1e1e" stroke-width="0.14" textLength="20.66" lengthAdjust="spacingAndGlyphs">ST1053</text>
<rect x="487.2" y="234.4" width="3.6" height="3.6" fill="#3840a9" stroke="#333" stroke-opacity="0.4" stroke-width="0.35"/>
<text x="494.8" y="238.4" font-size="5.78" fill="#1e1e1e" stroke="#1e1e1e" stroke-width="0.14" textLength="14.1" lengthAdjust="spacingAndGlyphs">ST20</text>
<rect x="487.2" y="239.9" width="3.6" height="3.6" fill="#62c79d" stroke="#333" stroke-opacity="0.4" stroke-width="0.35"/>
<text x="494.8" y="243.9" font-size="5.78" fill="#1e1e1e" stroke="#1e1e1e" stroke-width="0.14" textLength="17.38" lengthAdjust="spacingAndGlyphs">ST403</text>
<rect x="487.2" y="245.4" width="3.6" height="3.6" fill="#52b296" stroke="#333" stroke-opacity="0.4" stroke-width="0.35"/>
<text x="494.8" y="249.4" font-size="5.78" fill="#1e1e1e" stroke="#1e1e1e" stroke-width="0.14" textLength="17.38" lengthAdjust="spacingAndGlyphs">ST577</text>
<rect x="487.2" y="250.9" width="3.6" height="3.6" fill="#40ae4f" stroke="#333" stroke-opacity="0.4" stroke-width="0.35"/>
<text x="494.8" y="254.9" font-size="5.78" fill="#1e1e1e" stroke="#1e1e1e" stroke-width="0.14" textLength="20.66" lengthAdjust="spacingAndGlyphs">ST3341</text>
<rect x="487.2" y="256.4" width="3.6" height="3.6" fill="#98cf75" stroke="#333" stroke-opacity="0.4" stroke-width="0.35"/>
<text x="494.8" y="260.4" font-size="5.78" fill="#1e1e1e" stroke="#1e1e1e" stroke-width="0.14" textLength="17.38" lengthAdjust="spacingAndGlyphs">ST350</text>
<rect x="487.2" y="261.9" width="3.6" height="3.6" fill="#c2256f" stroke="#333" stroke-opacity="0.4" stroke-width="0.35"/>
<text x="494.8" y="265.9" font-size="5.78" fill="#1e1e1e" stroke="#1e1e1e" stroke-width="0.14" textLength="16.95" lengthAdjust="spacingAndGlyphs">ST115</text>
<rect x="487.2" y="267.4" width="3.6" height="3.6" fill="#4b55b6" stroke="#333" stroke-opacity="0.4" stroke-width="0.35"/>
<text x="494.8" y="271.4" font-size="5.78" fill="#1e1e1e" stroke="#1e1e1e" stroke-width="0.14" textLength="20.66" lengthAdjust="spacingAndGlyphs">ST5216</text>
<rect x="487.2" y="272.9" width="3.6" height="3.6" fill="#c07b2c" stroke="#333" stroke-opacity="0.4" stroke-width="0.35"/>
<text x="494.8" y="276.9" font-size="5.78" fill="#1e1e1e" stroke="#1e1e1e" stroke-width="0.14" textLength="17.38" lengthAdjust="spacingAndGlyphs">ST602</text>
</svg>
</body></html>
